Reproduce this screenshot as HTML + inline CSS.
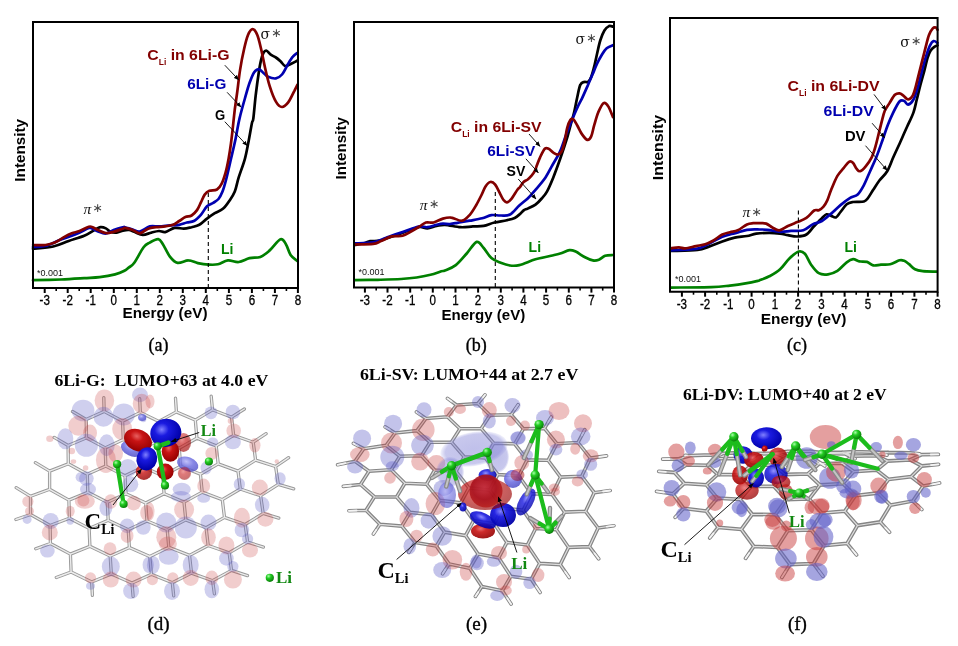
<!DOCTYPE html>
<html><head><meta charset="utf-8"><style>
html,body{margin:0;padding:0;background:#fff;width:958px;height:646px;overflow:hidden}
svg{display:block}
</style></head><body>
<svg width="958" height="646" viewBox="0 0 958 646">
<defs><marker id="ah" viewBox="0 0 10 10" refX="9" refY="5" markerWidth="6" markerHeight="6" orient="auto"><path d="M0,1 L10,5 L0,9 Z" fill="#000"/></marker></defs>
<rect width="958" height="646" fill="#fff"/>
<defs>
<radialGradient id="gR" cx="45%" cy="40%" r="60%"><stop offset="0" stop-color="#d98a8a" stop-opacity="0.55"/><stop offset="0.75" stop-color="#cf7070" stop-opacity="0.42"/><stop offset="1" stop-color="#c86060" stop-opacity="0.15"/></radialGradient>
<radialGradient id="gB" cx="45%" cy="40%" r="60%"><stop offset="0" stop-color="#a0a0ec" stop-opacity="0.55"/><stop offset="0.75" stop-color="#8080dc" stop-opacity="0.42"/><stop offset="1" stop-color="#7070d0" stop-opacity="0.15"/></radialGradient>
<radialGradient id="sR" cx="40%" cy="35%" r="65%"><stop offset="0" stop-color="#e86060"/><stop offset="0.35" stop-color="#c81414"/><stop offset="1" stop-color="#960000"/></radialGradient>
<radialGradient id="sB" cx="40%" cy="35%" r="65%"><stop offset="0" stop-color="#8080ff"/><stop offset="0.35" stop-color="#1a1ae0"/><stop offset="1" stop-color="#0000a8"/></radialGradient>
<radialGradient id="mB" cx="40%" cy="35%" r="65%"><stop offset="0" stop-color="#b0b0f8"/><stop offset="0.5" stop-color="#6a6ae0"/><stop offset="1" stop-color="#5050c8"/></radialGradient>
<radialGradient id="pB" cx="50%" cy="50%" r="50%"><stop offset="0" stop-color="#7c7cd4" stop-opacity="0.48"/><stop offset="0.85" stop-color="#7c7cd4" stop-opacity="0.42"/><stop offset="1" stop-color="#8080d8" stop-opacity="0.1"/></radialGradient>
<radialGradient id="dR" cx="45%" cy="40%" r="60%"><stop offset="0" stop-color="#c02838"/><stop offset="0.6" stop-color="#a8101c"/><stop offset="1" stop-color="#b82020"/></radialGradient>
<radialGradient id="gL" cx="35%" cy="30%" r="70%"><stop offset="0" stop-color="#aaffaa"/><stop offset="0.4" stop-color="#22cc22"/><stop offset="1" stop-color="#0a800a"/></radialGradient>
</defs>
<path d="M89.1,528.4L108.2,520.3M86.5,437.8L105.2,447.9M108.2,520.3L128.2,529.7M208.2,545.5L229.1,552.8M196.9,438.2L216.2,445.9M140.3,412.4L158.9,421.4M216.2,445.9L218.2,463.9M129.4,547.6L149.8,556.5M125.0,475.8L126.0,493.8M30.5,496.3L49.6,489.3M68.1,445.5L68.3,463.8M91.7,582.0L111.3,573.9M89.9,546.3L110.2,556.1M224.5,517.4L245.1,524.5M87.3,474.2L87.8,492.3M149.8,556.5L151.4,574.3M222.3,499.7L240.3,489.0M185.8,519.9L206.1,527.8M104.1,411.4L122.6,421.2M162.7,475.8L164.1,493.7M122.6,421.2L123.3,439.5M70.4,554.1L71.1,572.0M229.1,552.8L247.6,542.1M233.6,435.3L253.2,442.2M195.3,420.1L212.5,409.8M86.2,419.5L86.5,437.8M240.3,489.0L260.6,495.7M69.4,518.2L89.1,528.4M164.1,493.7L184.0,502.1M179.2,448.2L196.9,438.2M167.2,529.5L185.8,519.9M50.4,543.5L70.4,554.1M255.6,460.1L275.6,466.5M218.2,463.9L238.0,471.1M145.7,503.0L147.0,520.9M200.4,474.2L218.2,463.9M125.0,475.8L143.3,466.9M70.4,554.1L89.9,546.3M110.2,556.1L129.4,547.6M107.3,502.3L108.2,520.3M231.6,417.2L233.6,435.3M184.0,502.1L202.2,492.1M222.3,499.7L224.5,517.4M253.2,442.2L255.6,460.1M87.3,474.2L105.8,466.1M238.0,471.1L255.6,460.1M143.3,466.9L162.7,475.8M126.0,493.8L145.7,503.0M50.1,525.5L69.4,518.2M191.5,573.1L212.6,580.7M49.6,489.3L68.9,500.1M151.4,574.3L172.3,582.7M206.1,527.8L208.2,545.5M145.7,503.0L164.1,493.7M87.8,492.3L107.3,502.3M260.6,495.7L278.3,484.3M260.6,495.7L263.2,513.4M212.6,580.7L231.5,570.4M180.7,466.2L200.4,474.2M50.1,525.5L50.4,543.5M167.2,529.5L168.8,547.3M245.1,524.5L263.2,513.4M158.9,421.4L176.4,411.9M30.5,514.5L50.1,525.5M189.5,555.4L191.5,573.1M179.2,448.2L180.7,466.2M122.6,421.2L140.3,412.4M30.5,496.3L30.5,514.5M202.2,492.1L222.3,499.7M160.1,439.6L179.2,448.2M275.6,466.5L278.3,484.3M168.8,547.3L189.5,555.4M86.2,419.5L104.1,411.4M49.6,471.1L49.6,489.3M128.2,529.7L129.4,547.6M238.0,471.1L240.3,489.0M111.3,573.9L132.0,583.1M68.9,500.1L69.4,518.2M142.2,448.8L143.3,466.9M132.0,583.1L151.4,574.3M105.2,447.9L123.3,439.5M110.2,556.1L111.3,573.9M89.1,528.4L89.9,546.3M107.3,502.3L126.0,493.8M105.2,447.9L105.8,466.1M147.0,520.9L167.2,529.5M195.3,420.1L196.9,438.2M216.2,445.9L233.6,435.3M245.1,524.5L247.6,542.1M158.9,421.4L160.1,439.6M71.1,572.0L91.7,582.0M49.6,471.1L68.3,463.8M68.1,445.5L86.5,437.8M200.4,474.2L202.2,492.1M172.3,582.7L191.5,573.1M162.7,475.8L180.7,466.2M68.9,500.1L87.8,492.3M142.2,448.8L160.1,439.6M149.8,556.5L168.8,547.3M68.3,463.8L87.3,474.2M105.8,466.1L125.0,475.8M206.1,527.8L224.5,517.4M176.4,411.9L195.3,420.1M128.2,529.7L147.0,520.9M184.0,502.1L185.8,519.9M123.3,439.5L142.2,448.8M212.5,409.8L231.6,417.2M189.5,555.4L208.2,545.5M229.1,552.8L231.5,570.4M104.1,411.4L103.8,397.6M86.2,419.5L72.5,411.5M140.3,412.4L139.7,398.7M176.4,411.9L175.5,398.2M212.5,409.8L211.2,396.2M231.6,417.2L244.4,409.0M68.1,445.5L54.2,437.4M253.2,442.2L266.1,433.7M49.6,471.1L35.4,462.7M275.6,466.5L288.6,457.7M278.3,484.3L293.7,488.8M30.5,514.5L15.9,519.5M30.5,496.3L16.2,487.7M263.2,513.4L278.8,518.1M50.4,543.5L35.7,548.8M247.6,542.1L263.4,547.1M91.7,582.0L92.4,595.3M71.1,572.0L56.3,577.5M132.0,583.1L133.1,596.4M172.3,582.7L173.7,595.9M231.5,570.4L247.5,575.6M212.6,580.7L214.4,593.9" stroke="#999999" stroke-width="3.3" stroke-linecap="round" fill="none"/><path d="M89.1,528.4L108.2,520.3M86.5,437.8L105.2,447.9M108.2,520.3L128.2,529.7M208.2,545.5L229.1,552.8M196.9,438.2L216.2,445.9M140.3,412.4L158.9,421.4M216.2,445.9L218.2,463.9M129.4,547.6L149.8,556.5M125.0,475.8L126.0,493.8M30.5,496.3L49.6,489.3M68.1,445.5L68.3,463.8M91.7,582.0L111.3,573.9M89.9,546.3L110.2,556.1M224.5,517.4L245.1,524.5M87.3,474.2L87.8,492.3M149.8,556.5L151.4,574.3M222.3,499.7L240.3,489.0M185.8,519.9L206.1,527.8M104.1,411.4L122.6,421.2M162.7,475.8L164.1,493.7M122.6,421.2L123.3,439.5M70.4,554.1L71.1,572.0M229.1,552.8L247.6,542.1M233.6,435.3L253.2,442.2M195.3,420.1L212.5,409.8M86.2,419.5L86.5,437.8M240.3,489.0L260.6,495.7M69.4,518.2L89.1,528.4M164.1,493.7L184.0,502.1M179.2,448.2L196.9,438.2M167.2,529.5L185.8,519.9M50.4,543.5L70.4,554.1M255.6,460.1L275.6,466.5M218.2,463.9L238.0,471.1M145.7,503.0L147.0,520.9M200.4,474.2L218.2,463.9M125.0,475.8L143.3,466.9M70.4,554.1L89.9,546.3M110.2,556.1L129.4,547.6M107.3,502.3L108.2,520.3M231.6,417.2L233.6,435.3M184.0,502.1L202.2,492.1M222.3,499.7L224.5,517.4M253.2,442.2L255.6,460.1M87.3,474.2L105.8,466.1M238.0,471.1L255.6,460.1M143.3,466.9L162.7,475.8M126.0,493.8L145.7,503.0M50.1,525.5L69.4,518.2M191.5,573.1L212.6,580.7M49.6,489.3L68.9,500.1M151.4,574.3L172.3,582.7M206.1,527.8L208.2,545.5M145.7,503.0L164.1,493.7M87.8,492.3L107.3,502.3M260.6,495.7L278.3,484.3M260.6,495.7L263.2,513.4M212.6,580.7L231.5,570.4M180.7,466.2L200.4,474.2M50.1,525.5L50.4,543.5M167.2,529.5L168.8,547.3M245.1,524.5L263.2,513.4M158.9,421.4L176.4,411.9M30.5,514.5L50.1,525.5M189.5,555.4L191.5,573.1M179.2,448.2L180.7,466.2M122.6,421.2L140.3,412.4M30.5,496.3L30.5,514.5M202.2,492.1L222.3,499.7M160.1,439.6L179.2,448.2M275.6,466.5L278.3,484.3M168.8,547.3L189.5,555.4M86.2,419.5L104.1,411.4M49.6,471.1L49.6,489.3M128.2,529.7L129.4,547.6M238.0,471.1L240.3,489.0M111.3,573.9L132.0,583.1M68.9,500.1L69.4,518.2M142.2,448.8L143.3,466.9M132.0,583.1L151.4,574.3M105.2,447.9L123.3,439.5M110.2,556.1L111.3,573.9M89.1,528.4L89.9,546.3M107.3,502.3L126.0,493.8M105.2,447.9L105.8,466.1M147.0,520.9L167.2,529.5M195.3,420.1L196.9,438.2M216.2,445.9L233.6,435.3M245.1,524.5L247.6,542.1M158.9,421.4L160.1,439.6M71.1,572.0L91.7,582.0M49.6,471.1L68.3,463.8M68.1,445.5L86.5,437.8M200.4,474.2L202.2,492.1M172.3,582.7L191.5,573.1M162.7,475.8L180.7,466.2M68.9,500.1L87.8,492.3M142.2,448.8L160.1,439.6M149.8,556.5L168.8,547.3M68.3,463.8L87.3,474.2M105.8,466.1L125.0,475.8M206.1,527.8L224.5,517.4M176.4,411.9L195.3,420.1M128.2,529.7L147.0,520.9M184.0,502.1L185.8,519.9M123.3,439.5L142.2,448.8M212.5,409.8L231.6,417.2M189.5,555.4L208.2,545.5M229.1,552.8L231.5,570.4M104.1,411.4L103.8,397.6M86.2,419.5L72.5,411.5M140.3,412.4L139.7,398.7M176.4,411.9L175.5,398.2M212.5,409.8L211.2,396.2M231.6,417.2L244.4,409.0M68.1,445.5L54.2,437.4M253.2,442.2L266.1,433.7M49.6,471.1L35.4,462.7M275.6,466.5L288.6,457.7M278.3,484.3L293.7,488.8M30.5,514.5L15.9,519.5M30.5,496.3L16.2,487.7M263.2,513.4L278.8,518.1M50.4,543.5L35.7,548.8M247.6,542.1L263.4,547.1M91.7,582.0L92.4,595.3M71.1,572.0L56.3,577.5M132.0,583.1L133.1,596.4M172.3,582.7L173.7,595.9M231.5,570.4L247.5,575.6M212.6,580.7L214.4,593.9" stroke="#ececec" stroke-width="1.4" stroke-linecap="round" fill="none"/>
<ellipse cx="83.1" cy="410.5" rx="11.3" ry="10.8" fill="#6060c8" fill-opacity="0.30"/>
<ellipse cx="104.4" cy="400.5" rx="9.8" ry="11.0" fill="#c83c3c" fill-opacity="0.26"/>
<ellipse cx="103.5" cy="416.8" rx="10.0" ry="10.0" fill="#6060c8" fill-opacity="0.30"/>
<ellipse cx="78.3" cy="425.8" rx="10.0" ry="10.0" fill="#c83c3c" fill-opacity="0.26"/>
<ellipse cx="90.0" cy="433.0" rx="7.0" ry="8.5" fill="#c83c3c" fill-opacity="0.26"/>
<ellipse cx="65.3" cy="438.8" rx="8.0" ry="10.5" fill="#6060c8" fill-opacity="0.30"/>
<ellipse cx="86.4" cy="445.3" rx="11.5" ry="11.5" fill="#6060c8" fill-opacity="0.30"/>
<ellipse cx="123.8" cy="414.4" rx="11.0" ry="11.0" fill="#6060c8" fill-opacity="0.30"/>
<ellipse cx="122.2" cy="429.0" rx="10.0" ry="11.0" fill="#c83c3c" fill-opacity="0.26"/>
<ellipse cx="140.0" cy="394.9" rx="8.0" ry="7.3" fill="#6060c8" fill-opacity="0.30"/>
<ellipse cx="141.7" cy="403.8" rx="9.0" ry="10.0" fill="#c83c3c" fill-opacity="0.26"/>
<ellipse cx="106.7" cy="445.3" rx="8.0" ry="11.0" fill="#6060c8" fill-opacity="0.30"/>
<ellipse cx="105.9" cy="460.0" rx="10.0" ry="13.0" fill="#c83c3c" fill-opacity="0.26"/>
<ellipse cx="115.7" cy="453.4" rx="7.3" ry="9.0" fill="#c83c3c" fill-opacity="0.26"/>
<ellipse cx="86.4" cy="478.6" rx="7.3" ry="7.3" fill="#6060c8" fill-opacity="0.30"/>
<ellipse cx="88.0" cy="489.2" rx="8.0" ry="6.4" fill="#6060c8" fill-opacity="0.30"/>
<ellipse cx="127.9" cy="468.0" rx="9.0" ry="9.0" fill="#6060c8" fill-opacity="0.30"/>
<ellipse cx="130.3" cy="484.3" rx="8.0" ry="8.0" fill="#6060c8" fill-opacity="0.30"/>
<ellipse cx="49.8" cy="438.8" rx="3.6" ry="3.3" fill="#c83c3c" fill-opacity="0.26"/>
<ellipse cx="71.8" cy="451.0" rx="3.3" ry="3.3" fill="#c83c3c" fill-opacity="0.26"/>
<ellipse cx="73.4" cy="461.5" rx="2.8" ry="2.3" fill="#c83c3c" fill-opacity="0.26"/>
<ellipse cx="85.6" cy="468.0" rx="2.8" ry="2.8" fill="#c83c3c" fill-opacity="0.26"/>
<ellipse cx="143.3" cy="419.3" rx="3.0" ry="3.0" fill="#6060c8" fill-opacity="0.30"/>
<ellipse cx="150.0" cy="401.4" rx="4.5" ry="7.0" fill="#c83c3c" fill-opacity="0.26"/>
<ellipse cx="211.0" cy="412.8" rx="6.4" ry="6.4" fill="#6060c8" fill-opacity="0.30"/>
<ellipse cx="232.9" cy="412.0" rx="7.3" ry="7.3" fill="#6060c8" fill-opacity="0.30"/>
<ellipse cx="233.7" cy="430.7" rx="7.3" ry="7.3" fill="#c83c3c" fill-opacity="0.26"/>
<ellipse cx="230.5" cy="420.9" rx="2.8" ry="2.8" fill="#c83c3c" fill-opacity="0.26"/>
<ellipse cx="212.6" cy="442.0" rx="5.6" ry="4.5" fill="#6060c8" fill-opacity="0.30"/>
<ellipse cx="232.9" cy="442.0" rx="8.0" ry="7.3" fill="#6060c8" fill-opacity="0.30"/>
<ellipse cx="254.9" cy="445.3" rx="5.6" ry="7.3" fill="#c83c3c" fill-opacity="0.26"/>
<ellipse cx="211.8" cy="453.4" rx="6.4" ry="6.4" fill="#c83c3c" fill-opacity="0.26"/>
<ellipse cx="206.1" cy="468.0" rx="5.6" ry="6.4" fill="#6060c8" fill-opacity="0.30"/>
<ellipse cx="203.7" cy="485.9" rx="6.4" ry="7.3" fill="#c83c3c" fill-opacity="0.26"/>
<ellipse cx="181.7" cy="489.2" rx="9.0" ry="6.4" fill="#6060c8" fill-opacity="0.30"/>
<ellipse cx="239.4" cy="484.3" rx="5.6" ry="6.4" fill="#6060c8" fill-opacity="0.30"/>
<ellipse cx="259.8" cy="487.6" rx="8.0" ry="8.0" fill="#c83c3c" fill-opacity="0.26"/>
<ellipse cx="280.1" cy="478.6" rx="5.6" ry="6.4" fill="#6060c8" fill-opacity="0.30"/>
<ellipse cx="276.8" cy="461.5" rx="2.2" ry="2.2" fill="#c83c3c" fill-opacity="0.26"/>
<ellipse cx="27.9" cy="501.5" rx="5.6" ry="5.6" fill="#c83c3c" fill-opacity="0.26"/>
<ellipse cx="29.5" cy="511.3" rx="4.5" ry="4.5" fill="#c83c3c" fill-opacity="0.26"/>
<ellipse cx="27.1" cy="519.4" rx="4.5" ry="4.5" fill="#6060c8" fill-opacity="0.30"/>
<ellipse cx="50.7" cy="521.0" rx="8.0" ry="8.0" fill="#6060c8" fill-opacity="0.30"/>
<ellipse cx="49.8" cy="532.4" rx="8.0" ry="8.0" fill="#c83c3c" fill-opacity="0.26"/>
<ellipse cx="70.2" cy="511.3" rx="4.5" ry="5.6" fill="#c83c3c" fill-opacity="0.26"/>
<ellipse cx="70.2" cy="521.0" rx="3.7" ry="3.7" fill="#6060c8" fill-opacity="0.30"/>
<ellipse cx="84.8" cy="501.5" rx="10.0" ry="7.3" fill="#c83c3c" fill-opacity="0.26"/>
<ellipse cx="105.9" cy="508.0" rx="6.4" ry="8.0" fill="#6060c8" fill-opacity="0.30"/>
<ellipse cx="110.8" cy="501.5" rx="6.4" ry="7.3" fill="#c83c3c" fill-opacity="0.26"/>
<ellipse cx="133.6" cy="503.1" rx="7.3" ry="7.3" fill="#c83c3c" fill-opacity="0.26"/>
<ellipse cx="146.6" cy="512.9" rx="6.4" ry="8.0" fill="#c83c3c" fill-opacity="0.26"/>
<ellipse cx="127.1" cy="525.9" rx="7.3" ry="7.3" fill="#6060c8" fill-opacity="0.30"/>
<ellipse cx="143.3" cy="527.5" rx="7.3" ry="7.3" fill="#6060c8" fill-opacity="0.30"/>
<ellipse cx="127.1" cy="535.7" rx="6.4" ry="7.3" fill="#c83c3c" fill-opacity="0.26"/>
<ellipse cx="47.4" cy="551.1" rx="7.3" ry="6.4" fill="#6060c8" fill-opacity="0.30"/>
<ellipse cx="110.0" cy="548.7" rx="6.4" ry="6.4" fill="#c83c3c" fill-opacity="0.26"/>
<ellipse cx="110.8" cy="566.5" rx="9.0" ry="10.0" fill="#6060c8" fill-opacity="0.30"/>
<ellipse cx="110.8" cy="579.6" rx="8.0" ry="8.0" fill="#c83c3c" fill-opacity="0.26"/>
<ellipse cx="90.5" cy="577.9" rx="5.6" ry="5.6" fill="#c83c3c" fill-opacity="0.26"/>
<ellipse cx="90.5" cy="586.0" rx="4.5" ry="3.7" fill="#6060c8" fill-opacity="0.30"/>
<ellipse cx="133.6" cy="579.6" rx="8.0" ry="8.0" fill="#c83c3c" fill-opacity="0.26"/>
<ellipse cx="131.1" cy="591.0" rx="8.0" ry="8.0" fill="#6060c8" fill-opacity="0.30"/>
<ellipse cx="148.2" cy="564.9" rx="5.6" ry="8.0" fill="#6060c8" fill-opacity="0.30"/>
<ellipse cx="180.9" cy="496.6" rx="10.0" ry="5.6" fill="#6060c8" fill-opacity="0.30"/>
<ellipse cx="184.1" cy="509.6" rx="10.0" ry="10.0" fill="#c83c3c" fill-opacity="0.26"/>
<ellipse cx="203.7" cy="498.3" rx="6.4" ry="4.5" fill="#6060c8" fill-opacity="0.30"/>
<ellipse cx="166.3" cy="522.6" rx="10.0" ry="10.0" fill="#6060c8" fill-opacity="0.30"/>
<ellipse cx="166.3" cy="537.3" rx="10.0" ry="11.0" fill="#c83c3c" fill-opacity="0.26"/>
<ellipse cx="185.8" cy="527.5" rx="11.0" ry="11.0" fill="#6060c8" fill-opacity="0.30"/>
<ellipse cx="208.5" cy="522.6" rx="8.0" ry="8.0" fill="#6060c8" fill-opacity="0.30"/>
<ellipse cx="208.5" cy="537.3" rx="7.3" ry="9.0" fill="#c83c3c" fill-opacity="0.26"/>
<ellipse cx="150.0" cy="511.3" rx="4.5" ry="9.0" fill="#c83c3c" fill-opacity="0.26"/>
<ellipse cx="241.9" cy="517.8" rx="8.0" ry="10.0" fill="#c83c3c" fill-opacity="0.26"/>
<ellipse cx="241.9" cy="530.0" rx="7.3" ry="7.3" fill="#6060c8" fill-opacity="0.30"/>
<ellipse cx="262.2" cy="504.8" rx="7.3" ry="8.0" fill="#6060c8" fill-opacity="0.30"/>
<ellipse cx="265.4" cy="519.4" rx="8.0" ry="7.3" fill="#c83c3c" fill-opacity="0.26"/>
<ellipse cx="247.6" cy="538.9" rx="5.6" ry="5.6" fill="#6060c8" fill-opacity="0.30"/>
<ellipse cx="250.0" cy="550.3" rx="8.0" ry="7.3" fill="#c83c3c" fill-opacity="0.26"/>
<ellipse cx="226.4" cy="545.4" rx="8.0" ry="9.0" fill="#c83c3c" fill-opacity="0.26"/>
<ellipse cx="226.4" cy="558.4" rx="7.3" ry="7.3" fill="#6060c8" fill-opacity="0.30"/>
<ellipse cx="232.9" cy="566.5" rx="5.6" ry="5.6" fill="#6060c8" fill-opacity="0.30"/>
<ellipse cx="232.9" cy="579.6" rx="9.0" ry="9.0" fill="#c83c3c" fill-opacity="0.26"/>
<ellipse cx="168.7" cy="556.8" rx="10.0" ry="8.0" fill="#6060c8" fill-opacity="0.30"/>
<ellipse cx="167.9" cy="543.8" rx="9.0" ry="7.3" fill="#c83c3c" fill-opacity="0.26"/>
<ellipse cx="190.7" cy="564.9" rx="8.0" ry="10.0" fill="#6060c8" fill-opacity="0.30"/>
<ellipse cx="190.7" cy="577.9" rx="8.0" ry="8.0" fill="#c83c3c" fill-opacity="0.26"/>
<ellipse cx="211.8" cy="577.9" rx="6.4" ry="7.3" fill="#c83c3c" fill-opacity="0.26"/>
<ellipse cx="211.8" cy="589.3" rx="7.3" ry="9.0" fill="#6060c8" fill-opacity="0.30"/>
<ellipse cx="172.8" cy="577.9" rx="5.6" ry="5.6" fill="#c83c3c" fill-opacity="0.26"/>
<ellipse cx="172.0" cy="590.9" rx="8.0" ry="9.0" fill="#6060c8" fill-opacity="0.30"/>
<ellipse cx="153.3" cy="564.9" rx="6.4" ry="9.0" fill="#6060c8" fill-opacity="0.30"/>
<ellipse cx="152.4" cy="579.6" rx="5.6" ry="5.6" fill="#c83c3c" fill-opacity="0.26"/>
<ellipse cx="80.6" cy="477.2" rx="5.0" ry="5.0" fill="#6060c8" fill-opacity="0.30"/>
<ellipse cx="83.4" cy="500.4" rx="6.0" ry="6.0" fill="#c83c3c" fill-opacity="0.26"/>
<ellipse cx="183.3" cy="443.7" rx="6.5" ry="8.0" fill="#c83c3c" fill-opacity="0.26"/>
<ellipse cx="184.1" cy="472.9" rx="6.5" ry="6.5" fill="#c83c3c" fill-opacity="0.26"/>
<ellipse cx="131.4" cy="449.0" rx="11.1" ry="7.0" fill="url(#mB)" transform="rotate(25 131.4 449.0)" opacity="0.85"/>
<ellipse cx="187.7" cy="464.2" rx="11.1" ry="7.0" fill="url(#mB)" transform="rotate(20 187.7 464.2)" opacity="0.8"/>
<ellipse cx="183.5" cy="442.5" rx="7.6" ry="9.4" fill="url(#sR)" opacity="0.55"/>
<ellipse cx="184.5" cy="473.5" rx="6.5" ry="6.5" fill="url(#sR)" opacity="0.45"/>
<ellipse cx="143.9" cy="471.8" rx="8.2" ry="8.2" fill="url(#sR)" opacity="0.8"/>
<ellipse cx="142.2" cy="417.5" rx="4.1" ry="3.6" fill="url(#mB)" opacity="0.8"/>
<ellipse cx="138.0" cy="440.3" rx="14.6" ry="10.8" fill="url(#sR)" transform="rotate(25 138.0 440.3)" opacity="1"/>
<ellipse cx="165.2" cy="471.8" rx="8.4" ry="8.2" fill="url(#sR)" opacity="1"/>
<ellipse cx="170.4" cy="451.2" rx="8.7" ry="10.6" fill="url(#sR)" opacity="1"/>
<ellipse cx="165.8" cy="432.8" rx="15.6" ry="14.0" fill="url(#sB)" transform="rotate(-15 165.8 432.8)" opacity="1"/>
<ellipse cx="146.8" cy="458.8" rx="10.3" ry="11.7" fill="url(#sB)" transform="rotate(15 146.8 458.8)" opacity="1"/>
<line x1="117.1" y1="464.2" x2="123.6" y2="504" stroke="#1cbc1c" stroke-width="4.2" stroke-linecap="round"/>
<line x1="157.7" y1="446.3" x2="165" y2="485.4" stroke="#1cbc1c" stroke-width="4.2" stroke-linecap="round"/>
<line x1="157.7" y1="446.3" x2="168.3" y2="442.6" stroke="#1cbc1c" stroke-width="4.6" stroke-linecap="round"/>
<circle cx="117.1" cy="464.2" r="4.1" fill="url(#gL)"/>
<circle cx="123.6" cy="504" r="4.1" fill="url(#gL)"/>
<circle cx="157.7" cy="446.3" r="4.1" fill="url(#gL)"/>
<circle cx="165" cy="485.4" r="4.1" fill="url(#gL)"/>
<circle cx="208.9" cy="461.5" r="4.1" fill="url(#gL)"/>
<circle cx="269.8" cy="577.8" r="4.1" fill="url(#gL)"/>
<text x="200.8" y="435.8" font-family="Liberation Serif, Times New Roman, serif" font-weight="bold" font-size="16" fill="#118811">Li</text>
<text x="276" y="582.8" font-family="Liberation Serif, Times New Roman, serif" font-weight="bold" font-size="17" fill="#118811">Li</text>
<text x="84.5" y="529.2" font-family="Liberation Serif, Times New Roman, serif" font-weight="bold" font-size="23" fill="#000">C<tspan font-size="14" dy="5">Li</tspan></text>
<line x1="199.2" y1="432.5" x2="171.5" y2="441.5" stroke="#000" stroke-width="0.9" marker-end="url(#ah)"/>
<line x1="113" y1="505" x2="141.5" y2="469.1" stroke="#000" stroke-width="0.9" marker-end="url(#ah)"/>
<text x="161.4" y="385.9" font-family="Liberation Serif, Times New Roman, serif" font-weight="bold" font-size="16.6" text-anchor="middle" textLength="213.9" lengthAdjust="spacingAndGlyphs">6Li-G:&#160; LUMO+63 at 4.0 eV</text>
<text x="158.5" y="629.8" font-family="Liberation Serif, Times New Roman, serif" font-size="19" text-anchor="middle" stroke="#000" stroke-width="0.35">(d)</text><path d="M449.0,563.9L469.8,568.3M415.1,542.5L436.4,546.1M456.0,471.3L464.2,456.8M401.8,526.1L410.1,512.4M523.1,510.2L531.3,493.6M401.8,526.1L415.1,542.5M417.0,430.6L425.9,418.5M552.1,494.4L560.6,477.1M465.5,535.6L473.6,520.7M494.4,523.8L502.4,508.0M581.7,476.2L590.4,458.1M527.1,459.9L548.1,460.3M431.6,514.7L444.6,532.1M560.2,564.6L568.6,547.4M366.0,510.3L374.5,496.8M523.1,510.2L535.6,528.5M560.6,477.1L581.7,476.2M447.4,416.8L456.5,405.0M410.1,512.4L431.6,514.7M451.4,442.1L460.0,428.7M518.8,476.0L531.3,493.6M426.5,484.2L439.7,500.4M510.8,576.3L531.3,579.2M493.7,443.2L514.7,443.8M506.9,542.4L527.4,545.0M473.6,520.7L494.4,523.8M366.0,510.3L379.9,524.3M460.8,502.8L468.9,487.9M556.3,529.6L568.6,547.4M490.0,415.2L511.2,414.8M456.0,471.3L468.9,487.9M430.0,442.3L451.4,442.1M395.0,433.0L417.0,430.6M489.8,490.1L497.9,474.5M477.9,403.5L490.0,415.2M468.9,487.9L489.8,490.1M581.7,476.2L594.2,492.7M485.3,457.9L493.7,443.2M531.3,493.6L552.1,494.4M518.8,476.0L527.1,459.9M421.5,455.7L434.7,470.0M502.4,590.8L510.8,576.3M355.0,461.3L363.8,448.7M494.4,523.8L506.9,542.4M369.0,471.2L391.3,469.7M539.7,563.4L560.2,564.6M556.3,529.6L564.6,512.1M434.7,470.0L456.0,471.3M527.4,545.0L539.7,563.4M451.4,442.1L464.2,456.8M544.5,428.4L556.8,443.7M436.4,546.1L449.0,563.9M431.6,514.7L439.7,500.4M355.0,461.3L369.0,471.2M386.2,445.3L395.0,433.0M374.5,496.8L396.6,497.0M548.1,460.3L560.6,477.1M511.2,414.8L523.4,428.8M489.8,490.1L502.4,508.0M578.0,442.5L590.4,458.1M417.0,430.6L430.0,442.3M502.4,508.0L523.1,510.2M465.5,535.6L478.1,554.0M386.2,445.3L399.8,456.3M360.5,484.5L374.5,496.8M535.6,528.5L556.3,529.6M469.8,568.3L481.9,586.5M498.7,557.8L506.9,542.4M478.1,554.0L498.7,557.8M447.4,416.8L460.0,428.7M399.8,456.3L421.5,455.7M426.5,484.2L434.7,470.0M439.7,500.4L460.8,502.8M481.9,586.5L502.4,590.8M404.9,483.2L426.5,484.2M481.2,428.6L490.0,415.2M464.2,456.8L485.3,457.9M485.3,457.9L497.9,474.5M527.4,545.0L535.6,528.5M460.0,428.7L481.2,428.6M391.3,469.7L404.9,483.2M568.6,547.4L589.5,546.6M585.6,511.3L598.1,528.0M379.9,524.3L401.8,526.1M548.1,460.3L556.8,443.7M523.4,428.8L544.5,428.4M421.5,455.7L430.0,442.3M444.6,532.1L465.5,535.6M514.7,443.8L527.1,459.9M460.8,502.8L473.6,520.7M396.6,497.0L404.9,483.2M360.5,484.5L369.0,471.2M456.5,405.0L477.9,403.5M556.8,443.7L578.0,442.5M469.8,568.3L478.1,554.0M497.9,474.5L518.8,476.0M425.9,418.5L447.4,416.8M564.6,512.1L585.6,511.3M552.1,494.4L564.6,512.1M498.7,557.8L510.8,576.3M589.5,546.6L598.1,528.0M363.8,448.7L386.2,445.3M396.6,497.0L410.1,512.4M531.3,579.2L539.7,563.4M585.6,511.3L594.2,492.7M481.2,428.6L493.7,443.2M391.3,469.7L399.8,456.3M436.4,546.1L444.6,532.1M514.7,443.8L523.4,428.8M355.0,461.3L337.6,464.8M363.8,448.7L353.4,443.4M395.0,433.0L385.1,426.9M425.9,418.5L416.4,412.0M456.5,405.0L447.5,398.4M477.9,403.5L485.0,394.8M360.5,484.5L343.3,486.4M511.2,414.8L518.1,404.7M379.9,524.3L373.4,534.1M366.0,510.3L348.9,510.8M544.5,428.4L551.3,417.0M415.1,542.5L408.7,552.4M590.4,458.1L606.6,455.9M578.0,442.5L584.8,429.7M449.0,563.9L442.6,573.8M594.2,492.7L610.2,490.5M502.4,590.8L511.1,604.1M481.9,586.5L475.4,596.4M531.3,579.2L540.1,592.5M560.2,564.6L569.2,577.6M598.1,528.0L614.0,525.7M589.5,546.6L598.7,558.8" stroke="#858585" stroke-width="3.6" stroke-linecap="round" fill="none"/><path d="M449.0,563.9L469.8,568.3M415.1,542.5L436.4,546.1M456.0,471.3L464.2,456.8M401.8,526.1L410.1,512.4M523.1,510.2L531.3,493.6M401.8,526.1L415.1,542.5M417.0,430.6L425.9,418.5M552.1,494.4L560.6,477.1M465.5,535.6L473.6,520.7M494.4,523.8L502.4,508.0M581.7,476.2L590.4,458.1M527.1,459.9L548.1,460.3M431.6,514.7L444.6,532.1M560.2,564.6L568.6,547.4M366.0,510.3L374.5,496.8M523.1,510.2L535.6,528.5M560.6,477.1L581.7,476.2M447.4,416.8L456.5,405.0M410.1,512.4L431.6,514.7M451.4,442.1L460.0,428.7M518.8,476.0L531.3,493.6M426.5,484.2L439.7,500.4M510.8,576.3L531.3,579.2M493.7,443.2L514.7,443.8M506.9,542.4L527.4,545.0M473.6,520.7L494.4,523.8M366.0,510.3L379.9,524.3M460.8,502.8L468.9,487.9M556.3,529.6L568.6,547.4M490.0,415.2L511.2,414.8M456.0,471.3L468.9,487.9M430.0,442.3L451.4,442.1M395.0,433.0L417.0,430.6M489.8,490.1L497.9,474.5M477.9,403.5L490.0,415.2M468.9,487.9L489.8,490.1M581.7,476.2L594.2,492.7M485.3,457.9L493.7,443.2M531.3,493.6L552.1,494.4M518.8,476.0L527.1,459.9M421.5,455.7L434.7,470.0M502.4,590.8L510.8,576.3M355.0,461.3L363.8,448.7M494.4,523.8L506.9,542.4M369.0,471.2L391.3,469.7M539.7,563.4L560.2,564.6M556.3,529.6L564.6,512.1M434.7,470.0L456.0,471.3M527.4,545.0L539.7,563.4M451.4,442.1L464.2,456.8M544.5,428.4L556.8,443.7M436.4,546.1L449.0,563.9M431.6,514.7L439.7,500.4M355.0,461.3L369.0,471.2M386.2,445.3L395.0,433.0M374.5,496.8L396.6,497.0M548.1,460.3L560.6,477.1M511.2,414.8L523.4,428.8M489.8,490.1L502.4,508.0M578.0,442.5L590.4,458.1M417.0,430.6L430.0,442.3M502.4,508.0L523.1,510.2M465.5,535.6L478.1,554.0M386.2,445.3L399.8,456.3M360.5,484.5L374.5,496.8M535.6,528.5L556.3,529.6M469.8,568.3L481.9,586.5M498.7,557.8L506.9,542.4M478.1,554.0L498.7,557.8M447.4,416.8L460.0,428.7M399.8,456.3L421.5,455.7M426.5,484.2L434.7,470.0M439.7,500.4L460.8,502.8M481.9,586.5L502.4,590.8M404.9,483.2L426.5,484.2M481.2,428.6L490.0,415.2M464.2,456.8L485.3,457.9M485.3,457.9L497.9,474.5M527.4,545.0L535.6,528.5M460.0,428.7L481.2,428.6M391.3,469.7L404.9,483.2M568.6,547.4L589.5,546.6M585.6,511.3L598.1,528.0M379.9,524.3L401.8,526.1M548.1,460.3L556.8,443.7M523.4,428.8L544.5,428.4M421.5,455.7L430.0,442.3M444.6,532.1L465.5,535.6M514.7,443.8L527.1,459.9M460.8,502.8L473.6,520.7M396.6,497.0L404.9,483.2M360.5,484.5L369.0,471.2M456.5,405.0L477.9,403.5M556.8,443.7L578.0,442.5M469.8,568.3L478.1,554.0M497.9,474.5L518.8,476.0M425.9,418.5L447.4,416.8M564.6,512.1L585.6,511.3M552.1,494.4L564.6,512.1M498.7,557.8L510.8,576.3M589.5,546.6L598.1,528.0M363.8,448.7L386.2,445.3M396.6,497.0L410.1,512.4M531.3,579.2L539.7,563.4M585.6,511.3L594.2,492.7M481.2,428.6L493.7,443.2M391.3,469.7L399.8,456.3M436.4,546.1L444.6,532.1M514.7,443.8L523.4,428.8M355.0,461.3L337.6,464.8M363.8,448.7L353.4,443.4M395.0,433.0L385.1,426.9M425.9,418.5L416.4,412.0M456.5,405.0L447.5,398.4M477.9,403.5L485.0,394.8M360.5,484.5L343.3,486.4M511.2,414.8L518.1,404.7M379.9,524.3L373.4,534.1M366.0,510.3L348.9,510.8M544.5,428.4L551.3,417.0M415.1,542.5L408.7,552.4M590.4,458.1L606.6,455.9M578.0,442.5L584.8,429.7M449.0,563.9L442.6,573.8M594.2,492.7L610.2,490.5M502.4,590.8L511.1,604.1M481.9,586.5L475.4,596.4M531.3,579.2L540.1,592.5M560.2,564.6L569.2,577.6M598.1,528.0L614.0,525.7M589.5,546.6L598.7,558.8" stroke="#dedede" stroke-width="1.2" stroke-linecap="round" fill="none"/><path d="M345.4,463.2L337.6,464.8M358.0,445.8L353.4,443.4M389.6,429.6L385.1,426.9M420.6,414.9L416.4,412.0M451.5,401.4L447.5,398.4M481.8,398.7L485.0,394.8M351.0,485.5L343.3,486.4M515.0,409.2L518.1,404.7M376.3,529.7L373.4,534.1M356.6,510.5L348.9,510.8M548.2,422.1L551.3,417.0M411.6,547.9L408.7,552.4M599.3,456.9L606.6,455.9M581.8,435.4L584.8,429.7M445.5,569.3L442.6,573.8M603.0,491.5L610.2,490.5M507.2,598.1L511.1,604.1M478.4,591.9L475.4,596.4M536.1,586.5L540.1,592.5M565.2,571.7L569.2,577.6M606.8,526.7L614.0,525.7M594.5,553.3L598.7,558.8" stroke="#f4f4f4" stroke-width="1.7999999999999998" stroke-linecap="round" fill="none"/>
<ellipse cx="362.1" cy="438.4" rx="9.0" ry="9.0" fill="#6060c8" fill-opacity="0.38"/>
<ellipse cx="359.8" cy="454.6" rx="9.8" ry="7.5" fill="#c83c3c" fill-opacity="0.33"/>
<ellipse cx="355.1" cy="467.0" rx="8.0" ry="6.5" fill="#6060c8" fill-opacity="0.38"/>
<ellipse cx="393.1" cy="423.7" rx="9.0" ry="9.0" fill="#6060c8" fill-opacity="0.38"/>
<ellipse cx="391.5" cy="443.0" rx="10.5" ry="10.5" fill="#c83c3c" fill-opacity="0.33"/>
<ellipse cx="392.3" cy="457.0" rx="12.0" ry="11.3" fill="#6060c8" fill-opacity="0.38"/>
<ellipse cx="392.3" cy="466.2" rx="6.5" ry="5.0" fill="#6060c8" fill-opacity="0.38"/>
<ellipse cx="390.0" cy="477.9" rx="5.8" ry="5.8" fill="#c83c3c" fill-opacity="0.33"/>
<ellipse cx="424.0" cy="409.7" rx="7.5" ry="7.5" fill="#6060c8" fill-opacity="0.38"/>
<ellipse cx="423.3" cy="429.8" rx="11.3" ry="11.3" fill="#c83c3c" fill-opacity="0.33"/>
<ellipse cx="422.5" cy="445.3" rx="11.3" ry="10.5" fill="#6060c8" fill-opacity="0.38"/>
<ellipse cx="420.2" cy="461.6" rx="9.0" ry="9.0" fill="#c83c3c" fill-opacity="0.33"/>
<ellipse cx="436.4" cy="463.1" rx="9.0" ry="8.0" fill="#c83c3c" fill-opacity="0.33"/>
<ellipse cx="448.8" cy="412.0" rx="5.0" ry="5.0" fill="#c83c3c" fill-opacity="0.33"/>
<ellipse cx="443.4" cy="487.9" rx="9.8" ry="8.0" fill="#6060c8" fill-opacity="0.38"/>
<ellipse cx="489.3" cy="410.1" rx="7.5" ry="8.0" fill="#c83c3c" fill-opacity="0.33"/>
<ellipse cx="489.3" cy="421.0" rx="6.5" ry="7.5" fill="#6060c8" fill-opacity="0.38"/>
<ellipse cx="512.5" cy="405.5" rx="8.0" ry="7.5" fill="#6060c8" fill-opacity="0.38"/>
<ellipse cx="511.0" cy="421.0" rx="5.0" ry="5.0" fill="#c83c3c" fill-opacity="0.33"/>
<ellipse cx="524.9" cy="425.6" rx="5.0" ry="5.0" fill="#c83c3c" fill-opacity="0.33"/>
<ellipse cx="545.0" cy="417.9" rx="9.0" ry="8.0" fill="#6060c8" fill-opacity="0.38"/>
<ellipse cx="559.0" cy="410.9" rx="10.5" ry="9.0" fill="#c83c3c" fill-opacity="0.33"/>
<ellipse cx="583.0" cy="423.3" rx="9.0" ry="9.0" fill="#c83c3c" fill-opacity="0.33"/>
<ellipse cx="580.7" cy="436.5" rx="9.8" ry="9.0" fill="#6060c8" fill-opacity="0.38"/>
<ellipse cx="555.9" cy="439.6" rx="9.0" ry="9.0" fill="#c83c3c" fill-opacity="0.33"/>
<ellipse cx="555.9" cy="449.6" rx="6.5" ry="5.8" fill="#6060c8" fill-opacity="0.38"/>
<ellipse cx="575.2" cy="448.9" rx="5.0" ry="5.8" fill="#c83c3c" fill-opacity="0.33"/>
<ellipse cx="590.7" cy="455.8" rx="8.0" ry="6.5" fill="#c83c3c" fill-opacity="0.33"/>
<ellipse cx="590.7" cy="464.3" rx="6.5" ry="6.5" fill="#6060c8" fill-opacity="0.38"/>
<ellipse cx="582.2" cy="474.4" rx="5.8" ry="5.0" fill="#6060c8" fill-opacity="0.38"/>
<ellipse cx="577.6" cy="481.4" rx="5.8" ry="5.0" fill="#c83c3c" fill-opacity="0.33"/>
<ellipse cx="518.0" cy="438.0" rx="7.5" ry="6.5" fill="#6060c8" fill-opacity="0.38"/>
<ellipse cx="526.5" cy="455.0" rx="6.5" ry="5.8" fill="#6060c8" fill-opacity="0.38"/>
<ellipse cx="521.8" cy="462.8" rx="7.5" ry="7.5" fill="#c83c3c" fill-opacity="0.33"/>
<ellipse cx="554.3" cy="487.6" rx="5.5" ry="4.0" fill="#c83c3c" fill-opacity="0.33"/>
<ellipse cx="411.5" cy="507.9" rx="8.0" ry="9.8" fill="#6060c8" fill-opacity="0.38"/>
<ellipse cx="406.4" cy="519.0" rx="7.0" ry="8.0" fill="#c83c3c" fill-opacity="0.33"/>
<ellipse cx="435.4" cy="503.6" rx="9.8" ry="11.5" fill="#c83c3c" fill-opacity="0.33"/>
<ellipse cx="428.6" cy="520.7" rx="8.0" ry="8.0" fill="#6060c8" fill-opacity="0.38"/>
<ellipse cx="416.6" cy="536.0" rx="6.3" ry="6.3" fill="#c83c3c" fill-opacity="0.33"/>
<ellipse cx="409.8" cy="546.2" rx="6.3" ry="8.0" fill="#6060c8" fill-opacity="0.38"/>
<ellipse cx="442.2" cy="536.0" rx="9.8" ry="9.8" fill="#6060c8" fill-opacity="0.38"/>
<ellipse cx="432.8" cy="549.6" rx="7.0" ry="7.0" fill="#c83c3c" fill-opacity="0.33"/>
<ellipse cx="452.4" cy="559.8" rx="9.8" ry="9.8" fill="#c83c3c" fill-opacity="0.33"/>
<ellipse cx="442.2" cy="570.0" rx="9.0" ry="8.0" fill="#6060c8" fill-opacity="0.38"/>
<ellipse cx="466.0" cy="571.8" rx="6.3" ry="9.0" fill="#c83c3c" fill-opacity="0.33"/>
<ellipse cx="476.3" cy="561.5" rx="5.3" ry="7.0" fill="#6060c8" fill-opacity="0.38"/>
<ellipse cx="499.0" cy="553.0" rx="8.0" ry="7.0" fill="#c83c3c" fill-opacity="0.33"/>
<ellipse cx="493.8" cy="561.5" rx="7.0" ry="5.3" fill="#6060c8" fill-opacity="0.38"/>
<ellipse cx="476.8" cy="563.2" rx="7.0" ry="7.0" fill="#6060c8" fill-opacity="0.38"/>
<ellipse cx="504.0" cy="582.0" rx="8.0" ry="8.0" fill="#c83c3c" fill-opacity="0.33"/>
<ellipse cx="516.0" cy="571.7" rx="6.3" ry="7.0" fill="#6060c8" fill-opacity="0.38"/>
<ellipse cx="529.6" cy="582.8" rx="6.3" ry="6.3" fill="#6060c8" fill-opacity="0.38"/>
<ellipse cx="538.1" cy="575.1" rx="6.3" ry="7.0" fill="#c83c3c" fill-opacity="0.33"/>
<ellipse cx="505.8" cy="590.5" rx="6.0" ry="5.0" fill="#c83c3c" fill-opacity="0.33"/>
<ellipse cx="497.2" cy="595.6" rx="7.0" ry="5.3" fill="#6060c8" fill-opacity="0.38"/>
<ellipse cx="526.2" cy="549.6" rx="4.0" ry="4.0" fill="#c83c3c" fill-opacity="0.33"/>
<ellipse cx="536.4" cy="526.6" rx="3.5" ry="3.5" fill="#c83c3c" fill-opacity="0.33"/>
<ellipse cx="555.0" cy="491.7" rx="5.0" ry="4.0" fill="#c83c3c" fill-opacity="0.33"/>
<ellipse cx="478.0" cy="402.0" rx="6.0" ry="6.0" fill="#6060c8" fill-opacity="0.38"/>
<ellipse cx="460.0" cy="409.0" rx="6.0" ry="5.0" fill="#c83c3c" fill-opacity="0.33"/>
<ellipse cx="474.0" cy="449.0" rx="34.0" ry="17.0" fill="url(#pB)" transform="rotate(-10 474.0 449.0)" opacity="1"/>
<ellipse cx="450.0" cy="472.0" rx="14.0" ry="15.0" fill="url(#pB)" opacity="1"/>
<ellipse cx="497.0" cy="457.0" rx="12.0" ry="16.0" fill="url(#pB)" opacity="1"/>
<ellipse cx="447.0" cy="495.0" rx="9.0" ry="13.0" fill="url(#mB)" opacity="0.6"/>
<ellipse cx="518.0" cy="438.0" rx="8.0" ry="7.0" fill="url(#pB)" opacity="1"/>
<ellipse cx="483.0" cy="531.0" rx="12.0" ry="7.5" fill="url(#sR)" opacity="0.9"/>
<ellipse cx="487.5" cy="475.0" rx="9.0" ry="6.0" fill="url(#sB)" opacity="0.85"/>
<ellipse cx="513.0" cy="479.0" rx="9.0" ry="9.0" fill="url(#mB)" opacity="0.85"/>
<ellipse cx="517.5" cy="475.0" rx="7.0" ry="6.0" fill="url(#sR)" opacity="0.45"/>
<ellipse cx="526.0" cy="502.0" rx="7.0" ry="15.0" fill="url(#sB)" transform="rotate(30 526.0 502.0)" opacity="0.8"/>
<ellipse cx="483.0" cy="520.0" rx="14.0" ry="7.0" fill="url(#sB)" transform="rotate(25 483.0 520.0)" opacity="0.9"/>
<ellipse cx="503.0" cy="515.0" rx="13.0" ry="12.0" fill="url(#sB)" opacity="0.95"/>
<ellipse cx="485.0" cy="494.0" rx="27.0" ry="16.0" fill="url(#sR)" opacity="0.65"/>
<ellipse cx="486.0" cy="491.0" rx="16.5" ry="16.5" fill="url(#dR)" opacity="0.9"/>
<ellipse cx="463.0" cy="507.0" rx="3.5" ry="4.5" fill="url(#sB)" opacity="0.9"/>
<line x1="448.9" y1="476.15" x2="446.2" y2="486.6" stroke="#8a8a8a" stroke-width="4.4" stroke-linecap="round"/><line x1="448.9" y1="476.15" x2="446.2" y2="486.6" stroke="#c4c4c4" stroke-width="2.0000000000000004" stroke-linecap="round"/><line x1="451.6" y1="465.7" x2="448.9" y2="476.15" stroke="#1cbc1c" stroke-width="4.4" stroke-linecap="round"/>
<line x1="455.85" y1="478.45" x2="460.1" y2="491.2" stroke="#8a8a8a" stroke-width="4.4" stroke-linecap="round"/><line x1="455.85" y1="478.45" x2="460.1" y2="491.2" stroke="#c4c4c4" stroke-width="2.0000000000000004" stroke-linecap="round"/><line x1="451.6" y1="465.7" x2="455.85" y2="478.45" stroke="#1cbc1c" stroke-width="4.4" stroke-linecap="round"/>
<line x1="441.8" y1="471.85" x2="432" y2="478" stroke="#8a8a8a" stroke-width="4.4" stroke-linecap="round"/><line x1="441.8" y1="471.85" x2="432" y2="478" stroke="#c4c4c4" stroke-width="2.0000000000000004" stroke-linecap="round"/><line x1="451.6" y1="465.7" x2="441.8" y2="471.85" stroke="#1cbc1c" stroke-width="4.4" stroke-linecap="round"/>
<line x1="489.54999999999995" y1="461.25" x2="491.9" y2="470" stroke="#8a8a8a" stroke-width="4.4" stroke-linecap="round"/><line x1="489.54999999999995" y1="461.25" x2="491.9" y2="470" stroke="#c4c4c4" stroke-width="2.0000000000000004" stroke-linecap="round"/><line x1="487.2" y1="452.5" x2="489.54999999999995" y2="461.25" stroke="#1cbc1c" stroke-width="4.4" stroke-linecap="round"/>
<line x1="531.55" y1="441.3" x2="524" y2="458" stroke="#8a8a8a" stroke-width="4.4" stroke-linecap="round"/><line x1="531.55" y1="441.3" x2="524" y2="458" stroke="#c4c4c4" stroke-width="2.0000000000000004" stroke-linecap="round"/><line x1="539.1" y1="424.6" x2="531.55" y2="441.3" stroke="#1cbc1c" stroke-width="4.4" stroke-linecap="round"/>
<line x1="530.95" y1="484.65" x2="526.7" y2="494.3" stroke="#8a8a8a" stroke-width="4.4" stroke-linecap="round"/><line x1="530.95" y1="484.65" x2="526.7" y2="494.3" stroke="#c4c4c4" stroke-width="2.0000000000000004" stroke-linecap="round"/><line x1="535.2" y1="475" x2="530.95" y2="484.65" stroke="#1cbc1c" stroke-width="4.4" stroke-linecap="round"/>
<line x1="539.6" y1="523.6" x2="530" y2="518" stroke="#8a8a8a" stroke-width="4.4" stroke-linecap="round"/><line x1="539.6" y1="523.6" x2="530" y2="518" stroke="#c4c4c4" stroke-width="2.0000000000000004" stroke-linecap="round"/><line x1="549.2" y1="529.2" x2="539.6" y2="523.6" stroke="#1cbc1c" stroke-width="4.4" stroke-linecap="round"/>
<line x1="555.6" y1="522.6" x2="562" y2="516" stroke="#8a8a8a" stroke-width="4.4" stroke-linecap="round"/><line x1="555.6" y1="522.6" x2="562" y2="516" stroke="#c4c4c4" stroke-width="2.0000000000000004" stroke-linecap="round"/><line x1="549.2" y1="529.2" x2="555.6" y2="522.6" stroke="#1cbc1c" stroke-width="4.4" stroke-linecap="round"/>
<line x1="549.6" y1="518.6" x2="550" y2="508" stroke="#8a8a8a" stroke-width="4.4" stroke-linecap="round"/><line x1="549.6" y1="518.6" x2="550" y2="508" stroke="#c4c4c4" stroke-width="2.0000000000000004" stroke-linecap="round"/><line x1="549.2" y1="529.2" x2="549.6" y2="518.6" stroke="#1cbc1c" stroke-width="4.4" stroke-linecap="round"/>
<line x1="541.6" y1="483.5" x2="548" y2="492" stroke="#8a8a8a" stroke-width="4.4" stroke-linecap="round"/><line x1="541.6" y1="483.5" x2="548" y2="492" stroke="#c4c4c4" stroke-width="2.0000000000000004" stroke-linecap="round"/><line x1="535.2" y1="475" x2="541.6" y2="483.5" stroke="#1cbc1c" stroke-width="4.4" stroke-linecap="round"/>
<line x1="451.6" y1="465.7" x2="487.2" y2="452.5" stroke="#1cbc1c" stroke-width="4.6" stroke-linecap="round"/>
<line x1="539.1" y1="424.6" x2="535.2" y2="475" stroke="#1cbc1c" stroke-width="4.2" stroke-linecap="round"/>
<line x1="535.2" y1="475" x2="549.2" y2="529.2" stroke="#1cbc1c" stroke-width="4.2" stroke-linecap="round"/>
<circle cx="451.6" cy="465.7" r="4.7" fill="url(#gL)"/>
<circle cx="487.2" cy="452.5" r="4.7" fill="url(#gL)"/>
<circle cx="539.1" cy="424.6" r="4.7" fill="url(#gL)"/>
<circle cx="535.2" cy="475" r="4.7" fill="url(#gL)"/>
<circle cx="549.2" cy="529.2" r="4.7" fill="url(#gL)"/>
<text x="377.5" y="577.7" font-family="Liberation Serif, Times New Roman, serif" font-weight="bold" font-size="24" fill="#000">C<tspan font-size="14.4" dy="5">Li</tspan></text>
<line x1="396.6" y1="559.5" x2="461.3" y2="503.2" stroke="#000" stroke-width="0.9" marker-end="url(#ah)"/>
<text x="511.2" y="569.2" font-family="Liberation Serif, Times New Roman, serif" font-weight="bold" font-size="17" fill="#118811">Li</text>
<line x1="516.9" y1="552.5" x2="498.3" y2="496.9" stroke="#000" stroke-width="0.9" marker-end="url(#ah)"/>
<text x="469.1" y="379.5" font-family="Liberation Serif, Times New Roman, serif" font-weight="bold" font-size="16.6" text-anchor="middle" textLength="218.4" lengthAdjust="spacingAndGlyphs">6Li-SV: LUMO+44 at 2.7 eV</text>
<text x="476.5" y="629.8" font-family="Liberation Serif, Times New Roman, serif" font-size="19" text-anchor="middle" stroke="#000" stroke-width="0.35">(e)</text><path d="M775.2,453.2L787.7,451.4M744.6,452.5L753.4,453.7M819.9,485.0L842.9,483.6M753.8,546.4L777.3,547.3M674.5,472.5L684.3,483.3M786.1,499.7L809.2,498.9M717.7,474.4L739.9,474.8M779.0,453.3L787.7,451.4M844.8,511.2L855.3,495.6M809.2,498.9L821.8,513.1M718.2,527.3L741.3,529.3M741.3,529.3L752.2,514.3M706.3,484.9L717.7,474.4M853.3,456.1L876.1,455.6M819.8,452.5L842.4,452.3M878.1,493.0L888.6,479.4M910.2,459.8L921.8,466.0M807.9,457.1L819.8,452.5M880.2,522.0L890.5,505.1M775.4,514.7L786.1,499.7M876.1,455.6L887.6,461.0M809.8,451.2L819.8,452.5M775.4,514.7L787.9,530.6M842.9,483.6L853.7,471.6M792.6,458.6L814.2,458.8M741.3,529.3L753.8,546.4M684.3,483.3L706.3,484.9M775.2,453.2L785.4,457.5M911.2,476.7L921.8,466.0M854.7,451.7L877.4,452.3M677.8,459.0L686.4,464.9M707.6,465.3L719.6,458.7M876.6,470.0L887.6,461.0M857.5,525.5L880.2,522.0M723.6,453.4L744.6,452.5M821.8,513.1L844.8,511.2M753.4,453.7L775.2,453.2M672.9,493.8L683.7,508.3M809.2,498.9L819.9,485.0M690.4,455.6L710.9,454.9M911.2,476.7L923.1,486.1M719.6,458.7L741.2,458.3M842.4,452.3L853.3,456.1M822.7,453.3L845.0,453.9M741.2,458.3L751.4,465.3M910.2,459.8L921.5,454.7M717.4,498.2L740.1,499.3M710.9,454.9L719.6,458.7M777.3,547.3L787.9,530.6M845.0,453.9L854.7,451.7M790.0,564.5L813.4,563.7M779.0,453.3L792.6,458.6M677.8,459.0L690.4,455.6M841.9,463.1L853.3,456.1M706.3,484.9L717.4,498.2M706.3,511.1L718.2,527.3M811.2,529.8L821.8,513.1M777.3,547.3L790.0,564.5M739.9,474.8L751.4,465.3M683.7,508.3L706.3,511.1M773.8,465.0L785.1,474.5M672.9,493.8L684.3,483.3M877.4,452.3L887.9,452.5M844.8,511.2L857.5,525.5M809.8,451.2L822.7,453.3M842.4,452.3L854.7,451.7M785.1,474.5L807.9,473.8M751.4,465.3L773.8,465.0M811.2,529.8L824.0,545.7M739.9,474.8L751.2,486.4M741.2,458.3L753.4,453.7M686.4,464.9L707.6,465.3M751.2,486.4L774.0,486.4M887.6,461.0L910.2,459.8M710.9,454.9L723.6,453.4M876.1,455.6L887.9,452.5M878.1,493.0L890.5,505.1M824.0,545.7L847.1,543.4M807.9,457.1L819.1,463.9M740.1,499.3L752.2,514.3M912.9,501.0L923.1,486.1M910.6,452.9L921.5,454.7M890.5,505.1L912.9,501.0M674.5,472.5L686.4,464.9M773.8,465.0L785.4,457.5M887.9,452.5L910.6,452.9M842.9,483.6L855.3,495.6M707.6,465.3L717.7,474.4M847.1,543.4L857.5,525.5M774.0,486.4L785.1,474.5M888.6,479.4L911.2,476.7M855.3,495.6L878.1,493.0M787.7,451.4L809.8,451.2M876.6,470.0L888.6,479.4M774.0,486.4L786.1,499.7M807.9,473.8L819.1,463.9M744.6,452.5L757.7,453.9M787.9,530.6L811.2,529.8M752.2,514.3L775.4,514.7M814.2,458.8L822.7,453.3M740.1,499.3L751.2,486.4M841.9,463.1L853.7,471.6M813.4,563.7L824.0,545.7M853.7,471.6L876.6,470.0M785.4,457.5L807.9,457.1M819.1,463.9L841.9,463.1M757.7,453.9L779.0,453.3M706.3,511.1L717.4,498.2M807.9,473.8L819.9,485.0M677.8,459.0L662.7,459.1M690.4,455.6L685.1,455.5M674.5,472.5L658.8,471.4M683.7,508.3L675.2,517.3M672.9,493.8L656.6,491.4M723.6,453.4L718.2,455.2M718.2,527.3L709.8,537.9M757.7,453.9L752.3,458.0M753.8,546.4L745.6,558.3M792.6,458.6L787.3,465.3M814.2,458.8L824.8,465.9M813.4,563.7L822.9,576.2M790.0,564.5L781.9,577.4M845.0,453.9L855.0,458.7M847.1,543.4L856.5,554.9M877.4,452.3L886.9,455.1M880.2,522.0L889.5,532.2M921.5,454.7L938.3,454.4M910.6,452.9L919.6,453.8M921.8,466.0L938.5,464.3M923.1,486.1L939.6,483.0M912.9,501.0L921.8,509.5" stroke="#858585" stroke-width="3.8" stroke-linecap="round" fill="none"/><path d="M775.2,453.2L787.7,451.4M744.6,452.5L753.4,453.7M819.9,485.0L842.9,483.6M753.8,546.4L777.3,547.3M674.5,472.5L684.3,483.3M786.1,499.7L809.2,498.9M717.7,474.4L739.9,474.8M779.0,453.3L787.7,451.4M844.8,511.2L855.3,495.6M809.2,498.9L821.8,513.1M718.2,527.3L741.3,529.3M741.3,529.3L752.2,514.3M706.3,484.9L717.7,474.4M853.3,456.1L876.1,455.6M819.8,452.5L842.4,452.3M878.1,493.0L888.6,479.4M910.2,459.8L921.8,466.0M807.9,457.1L819.8,452.5M880.2,522.0L890.5,505.1M775.4,514.7L786.1,499.7M876.1,455.6L887.6,461.0M809.8,451.2L819.8,452.5M775.4,514.7L787.9,530.6M842.9,483.6L853.7,471.6M792.6,458.6L814.2,458.8M741.3,529.3L753.8,546.4M684.3,483.3L706.3,484.9M775.2,453.2L785.4,457.5M911.2,476.7L921.8,466.0M854.7,451.7L877.4,452.3M677.8,459.0L686.4,464.9M707.6,465.3L719.6,458.7M876.6,470.0L887.6,461.0M857.5,525.5L880.2,522.0M723.6,453.4L744.6,452.5M821.8,513.1L844.8,511.2M753.4,453.7L775.2,453.2M672.9,493.8L683.7,508.3M809.2,498.9L819.9,485.0M690.4,455.6L710.9,454.9M911.2,476.7L923.1,486.1M719.6,458.7L741.2,458.3M842.4,452.3L853.3,456.1M822.7,453.3L845.0,453.9M741.2,458.3L751.4,465.3M910.2,459.8L921.5,454.7M717.4,498.2L740.1,499.3M710.9,454.9L719.6,458.7M777.3,547.3L787.9,530.6M845.0,453.9L854.7,451.7M790.0,564.5L813.4,563.7M779.0,453.3L792.6,458.6M677.8,459.0L690.4,455.6M841.9,463.1L853.3,456.1M706.3,484.9L717.4,498.2M706.3,511.1L718.2,527.3M811.2,529.8L821.8,513.1M777.3,547.3L790.0,564.5M739.9,474.8L751.4,465.3M683.7,508.3L706.3,511.1M773.8,465.0L785.1,474.5M672.9,493.8L684.3,483.3M877.4,452.3L887.9,452.5M844.8,511.2L857.5,525.5M809.8,451.2L822.7,453.3M842.4,452.3L854.7,451.7M785.1,474.5L807.9,473.8M751.4,465.3L773.8,465.0M811.2,529.8L824.0,545.7M739.9,474.8L751.2,486.4M741.2,458.3L753.4,453.7M686.4,464.9L707.6,465.3M751.2,486.4L774.0,486.4M887.6,461.0L910.2,459.8M710.9,454.9L723.6,453.4M876.1,455.6L887.9,452.5M878.1,493.0L890.5,505.1M824.0,545.7L847.1,543.4M807.9,457.1L819.1,463.9M740.1,499.3L752.2,514.3M912.9,501.0L923.1,486.1M910.6,452.9L921.5,454.7M890.5,505.1L912.9,501.0M674.5,472.5L686.4,464.9M773.8,465.0L785.4,457.5M887.9,452.5L910.6,452.9M842.9,483.6L855.3,495.6M707.6,465.3L717.7,474.4M847.1,543.4L857.5,525.5M774.0,486.4L785.1,474.5M888.6,479.4L911.2,476.7M855.3,495.6L878.1,493.0M787.7,451.4L809.8,451.2M876.6,470.0L888.6,479.4M774.0,486.4L786.1,499.7M807.9,473.8L819.1,463.9M744.6,452.5L757.7,453.9M787.9,530.6L811.2,529.8M752.2,514.3L775.4,514.7M814.2,458.8L822.7,453.3M740.1,499.3L751.2,486.4M841.9,463.1L853.7,471.6M813.4,563.7L824.0,545.7M853.7,471.6L876.6,470.0M785.4,457.5L807.9,457.1M819.1,463.9L841.9,463.1M757.7,453.9L779.0,453.3M706.3,511.1L717.4,498.2M807.9,473.8L819.9,485.0M677.8,459.0L662.7,459.1M690.4,455.6L685.1,455.5M674.5,472.5L658.8,471.4M683.7,508.3L675.2,517.3M672.9,493.8L656.6,491.4M723.6,453.4L718.2,455.2M718.2,527.3L709.8,537.9M757.7,453.9L752.3,458.0M753.8,546.4L745.6,558.3M792.6,458.6L787.3,465.3M814.2,458.8L824.8,465.9M813.4,563.7L822.9,576.2M790.0,564.5L781.9,577.4M845.0,453.9L855.0,458.7M847.1,543.4L856.5,554.9M877.4,452.3L886.9,455.1M880.2,522.0L889.5,532.2M921.5,454.7L938.3,454.4M910.6,452.9L919.6,453.8M921.8,466.0L938.5,464.3M923.1,486.1L939.6,483.0M912.9,501.0L921.8,509.5" stroke="#dedede" stroke-width="1.2" stroke-linecap="round" fill="none"/><path d="M669.5,459.0L662.7,459.1M687.5,455.6L685.1,455.5M665.8,471.9L658.8,471.4M679.0,513.3L675.2,517.3M663.9,492.5L656.6,491.4M720.7,454.4L718.2,455.2M713.6,533.1L709.8,537.9M754.7,456.2L752.3,458.0M749.3,553.0L745.6,558.3M789.7,462.3L787.3,465.3M820.0,462.7L824.8,465.9M818.7,570.6L822.9,576.2M785.5,571.6L781.9,577.4M850.5,456.6L855.0,458.7M852.3,549.7L856.5,554.9M882.6,453.8L886.9,455.1M885.3,527.6L889.5,532.2M930.7,454.5L938.3,454.4M915.6,453.4L919.6,453.8M931.0,465.1L938.5,464.3M932.2,484.4L939.6,483.0M917.8,505.7L921.8,509.5" stroke="#f4f4f4" stroke-width="1.7999999999999998" stroke-linecap="round" fill="none"/>
<ellipse cx="676.3" cy="451.7" rx="8.1" ry="8.1" fill="#c83c3c" fill-opacity="0.49"/>
<ellipse cx="690.3" cy="447.8" rx="5.4" ry="6.3" fill="#6060c8" fill-opacity="0.57"/>
<ellipse cx="677.9" cy="465.6" rx="6.3" ry="6.3" fill="#6060c8" fill-opacity="0.57"/>
<ellipse cx="688.7" cy="461.0" rx="6.3" ry="5.4" fill="#c83c3c" fill-opacity="0.49"/>
<ellipse cx="715.0" cy="450.1" rx="7.1" ry="6.3" fill="#c83c3c" fill-opacity="0.49"/>
<ellipse cx="715.0" cy="462.5" rx="6.3" ry="5.4" fill="#6060c8" fill-opacity="0.57"/>
<ellipse cx="707.3" cy="471.0" rx="4.5" ry="3.6" fill="#c83c3c" fill-opacity="0.49"/>
<ellipse cx="671.7" cy="488.1" rx="8.1" ry="8.1" fill="#6060c8" fill-opacity="0.57"/>
<ellipse cx="670.1" cy="501.2" rx="6.3" ry="5.4" fill="#c83c3c" fill-opacity="0.49"/>
<ellipse cx="683.3" cy="502.0" rx="7.1" ry="7.1" fill="#c83c3c" fill-opacity="0.49"/>
<ellipse cx="683.3" cy="514.4" rx="7.1" ry="7.1" fill="#6060c8" fill-opacity="0.57"/>
<ellipse cx="716.6" cy="492.0" rx="9.7" ry="9.7" fill="#6060c8" fill-opacity="0.57"/>
<ellipse cx="715.0" cy="502.8" rx="8.1" ry="8.1" fill="#c83c3c" fill-opacity="0.49"/>
<ellipse cx="719.7" cy="522.9" rx="3.5" ry="3.5" fill="#c83c3c" fill-opacity="0.49"/>
<ellipse cx="739.8" cy="507.4" rx="8.1" ry="7.1" fill="#6060c8" fill-opacity="0.57"/>
<ellipse cx="777.0" cy="505.9" rx="8.9" ry="8.1" fill="#6060c8" fill-opacity="0.57"/>
<ellipse cx="772.3" cy="519.8" rx="8.1" ry="7.1" fill="#c83c3c" fill-opacity="0.49"/>
<ellipse cx="786.3" cy="526.0" rx="5.4" ry="5.4" fill="#c83c3c" fill-opacity="0.49"/>
<ellipse cx="825.5" cy="437.0" rx="15.7" ry="11.9" fill="#c83c3c" fill-opacity="0.49"/>
<ellipse cx="806.7" cy="458.0" rx="10.8" ry="10.8" fill="#6060c8" fill-opacity="0.57"/>
<ellipse cx="830.0" cy="478.0" rx="10.8" ry="10.8" fill="#6060c8" fill-opacity="0.57"/>
<ellipse cx="778.4" cy="508.4" rx="9.1" ry="9.1" fill="#6060c8" fill-opacity="0.57"/>
<ellipse cx="773.4" cy="522.6" rx="8.1" ry="7.2" fill="#c83c3c" fill-opacity="0.49"/>
<ellipse cx="783.4" cy="538.4" rx="13.5" ry="12.6" fill="#c83c3c" fill-opacity="0.49"/>
<ellipse cx="785.9" cy="558.5" rx="10.8" ry="9.9" fill="#6060c8" fill-opacity="0.57"/>
<ellipse cx="785.1" cy="573.5" rx="9.9" ry="8.1" fill="#c83c3c" fill-opacity="0.49"/>
<ellipse cx="818.5" cy="506.7" rx="10.8" ry="8.1" fill="#c83c3c" fill-opacity="0.49"/>
<ellipse cx="820.2" cy="520.9" rx="10.8" ry="8.1" fill="#6060c8" fill-opacity="0.57"/>
<ellipse cx="816.8" cy="538.4" rx="11.8" ry="11.8" fill="#c83c3c" fill-opacity="0.49"/>
<ellipse cx="823.5" cy="536.8" rx="9.9" ry="10.8" fill="#6060c8" fill-opacity="0.57"/>
<ellipse cx="816.8" cy="556.8" rx="10.8" ry="9.9" fill="#c83c3c" fill-opacity="0.49"/>
<ellipse cx="816.8" cy="571.8" rx="10.8" ry="9.1" fill="#6060c8" fill-opacity="0.57"/>
<ellipse cx="853.6" cy="500.0" rx="8.1" ry="9.9" fill="#c83c3c" fill-opacity="0.49"/>
<ellipse cx="848.6" cy="493.3" rx="9.1" ry="5.4" fill="#6060c8" fill-opacity="0.57"/>
<ellipse cx="882.0" cy="496.7" rx="6.3" ry="7.2" fill="#6060c8" fill-opacity="0.57"/>
<ellipse cx="741.7" cy="510.0" rx="5.4" ry="7.2" fill="#6060c8" fill-opacity="0.57"/>
<ellipse cx="897.9" cy="442.4" rx="5.0" ry="6.7" fill="#c83c3c" fill-opacity="0.49"/>
<ellipse cx="913.4" cy="444.7" rx="7.6" ry="6.7" fill="#6060c8" fill-opacity="0.57"/>
<ellipse cx="901.0" cy="455.6" rx="6.7" ry="4.2" fill="#6060c8" fill-opacity="0.57"/>
<ellipse cx="913.4" cy="457.9" rx="5.8" ry="5.0" fill="#c83c3c" fill-opacity="0.49"/>
<ellipse cx="924.3" cy="479.6" rx="7.6" ry="7.6" fill="#c83c3c" fill-opacity="0.49"/>
<ellipse cx="925.8" cy="492.7" rx="5.0" ry="5.0" fill="#6060c8" fill-opacity="0.57"/>
<ellipse cx="913.4" cy="496.6" rx="6.7" ry="6.7" fill="#6060c8" fill-opacity="0.57"/>
<ellipse cx="915.0" cy="508.2" rx="5.8" ry="5.8" fill="#c83c3c" fill-opacity="0.49"/>
<ellipse cx="878.6" cy="485.8" rx="8.3" ry="8.3" fill="#c83c3c" fill-opacity="0.49"/>
<ellipse cx="880.9" cy="496.6" rx="6.7" ry="6.7" fill="#6060c8" fill-opacity="0.57"/>
<ellipse cx="853.0" cy="501.2" rx="6.7" ry="9.2" fill="#c83c3c" fill-opacity="0.49"/>
<ellipse cx="853.0" cy="488.9" rx="8.3" ry="8.3" fill="#6060c8" fill-opacity="0.57"/>
<ellipse cx="843.7" cy="485.8" rx="7.6" ry="7.6" fill="#6060c8" fill-opacity="0.57"/>
<ellipse cx="822.0" cy="505.9" rx="7.6" ry="7.6" fill="#c83c3c" fill-opacity="0.49"/>
<ellipse cx="825.1" cy="519.8" rx="7.6" ry="6.7" fill="#6060c8" fill-opacity="0.57"/>
<ellipse cx="811.2" cy="524.5" rx="5.4" ry="5.4" fill="#6060c8" fill-opacity="0.57"/>
<ellipse cx="809.6" cy="507.4" rx="5.0" ry="6.7" fill="#c83c3c" fill-opacity="0.49"/>
<ellipse cx="836.0" cy="471.8" rx="10.0" ry="10.0" fill="#c83c3c" fill-opacity="0.49"/>
<ellipse cx="851.5" cy="470.3" rx="7.6" ry="8.3" fill="#6060c8" fill-opacity="0.57"/>
<ellipse cx="831.3" cy="444.7" rx="4.3" ry="3.5" fill="#6060c8" fill-opacity="0.57"/>
<ellipse cx="876.2" cy="447.0" rx="5.8" ry="5.0" fill="#6060c8" fill-opacity="0.57"/>
<ellipse cx="882.4" cy="454.8" rx="3.2" ry="3.2" fill="#c83c3c" fill-opacity="0.49"/>
<ellipse cx="766.4" cy="438.3" rx="15.4" ry="11.0" fill="url(#sB)" opacity="1"/>
<ellipse cx="743.0" cy="455.0" rx="9.5" ry="8.8" fill="url(#sB)" opacity="0.95"/>
<ellipse cx="740.0" cy="475.0" rx="8.0" ry="9.5" fill="url(#sR)" opacity="0.9"/>
<ellipse cx="747.0" cy="490.6" rx="11.7" ry="9.2" fill="url(#sR)" opacity="0.75"/>
<ellipse cx="754.0" cy="460.0" rx="10.0" ry="8.0" fill="url(#sR)" opacity="0.9"/>
<ellipse cx="756.0" cy="478.0" rx="8.0" ry="9.5" fill="url(#sB)" opacity="0.95"/>
<ellipse cx="778.0" cy="457.0" rx="9.5" ry="9.5" fill="url(#sR)" opacity="0.8"/>
<ellipse cx="776.0" cy="474.0" rx="11.7" ry="10.2" fill="url(#sB)" opacity="0.85"/>
<ellipse cx="781.0" cy="482.0" rx="9.5" ry="6.6" fill="url(#sR)" opacity="0.75"/>
<ellipse cx="786.0" cy="492.0" rx="7.0" ry="7.7" fill="url(#sR)" opacity="0.6"/>
<ellipse cx="764.6" cy="448.6" rx="3.0" ry="3.0" fill="url(#sR)" opacity="1"/>
<line x1="722.245" y1="449.58" x2="708" y2="465.2" stroke="#8a8a8a" stroke-width="4.4" stroke-linecap="round"/><line x1="722.245" y1="449.58" x2="708" y2="465.2" stroke="#c4c4c4" stroke-width="2.0000000000000004" stroke-linecap="round"/><line x1="733.9" y1="436.8" x2="722.245" y2="449.58" stroke="#1cbc1c" stroke-width="4.4" stroke-linecap="round"/>
<line x1="727.24" y1="453.675" x2="719.1" y2="474.3" stroke="#8a8a8a" stroke-width="4.4" stroke-linecap="round"/><line x1="727.24" y1="453.675" x2="719.1" y2="474.3" stroke="#c4c4c4" stroke-width="2.0000000000000004" stroke-linecap="round"/><line x1="733.9" y1="436.8" x2="727.24" y2="453.675" stroke="#1cbc1c" stroke-width="4.4" stroke-linecap="round"/>
<line x1="736.735" y1="454.125" x2="740.2" y2="475.3" stroke="#8a8a8a" stroke-width="4.4" stroke-linecap="round"/><line x1="736.735" y1="454.125" x2="740.2" y2="475.3" stroke="#c4c4c4" stroke-width="2.0000000000000004" stroke-linecap="round"/><line x1="733.9" y1="436.8" x2="736.735" y2="454.125" stroke="#1cbc1c" stroke-width="4.4" stroke-linecap="round"/>
<line x1="742.37" y1="450.94" x2="746" y2="457" stroke="#8a8a8a" stroke-width="4.4" stroke-linecap="round"/><line x1="742.37" y1="450.94" x2="746" y2="457" stroke="#c4c4c4" stroke-width="2.0000000000000004" stroke-linecap="round"/><line x1="733.9" y1="436.8" x2="742.37" y2="450.94" stroke="#1cbc1c" stroke-width="4.4" stroke-linecap="round"/>
<line x1="788.75" y1="456.5" x2="781.8" y2="467" stroke="#8a8a8a" stroke-width="4.4" stroke-linecap="round"/><line x1="788.75" y1="456.5" x2="781.8" y2="467" stroke="#c4c4c4" stroke-width="2.0000000000000004" stroke-linecap="round"/><line x1="795.7" y1="446" x2="788.75" y2="456.5" stroke="#1cbc1c" stroke-width="4.4" stroke-linecap="round"/>
<line x1="791.7" y1="458.0" x2="787.7" y2="470" stroke="#8a8a8a" stroke-width="4.4" stroke-linecap="round"/><line x1="791.7" y1="458.0" x2="787.7" y2="470" stroke="#c4c4c4" stroke-width="2.0000000000000004" stroke-linecap="round"/><line x1="795.7" y1="446" x2="791.7" y2="458.0" stroke="#1cbc1c" stroke-width="4.4" stroke-linecap="round"/>
<line x1="802.6500000000001" y1="455.5" x2="809.6" y2="465" stroke="#8a8a8a" stroke-width="4.4" stroke-linecap="round"/><line x1="802.6500000000001" y1="455.5" x2="809.6" y2="465" stroke="#c4c4c4" stroke-width="2.0000000000000004" stroke-linecap="round"/><line x1="795.7" y1="446" x2="802.6500000000001" y2="455.5" stroke="#1cbc1c" stroke-width="4.4" stroke-linecap="round"/>
<line x1="805.55" y1="458.0" x2="815.4" y2="470" stroke="#8a8a8a" stroke-width="4.4" stroke-linecap="round"/><line x1="805.55" y1="458.0" x2="815.4" y2="470" stroke="#c4c4c4" stroke-width="2.0000000000000004" stroke-linecap="round"/><line x1="795.7" y1="446" x2="805.55" y2="458.0" stroke="#1cbc1c" stroke-width="4.4" stroke-linecap="round"/>
<line x1="836.75" y1="458.65" x2="851.5" y2="463" stroke="#8a8a8a" stroke-width="4.4" stroke-linecap="round"/><line x1="836.75" y1="458.65" x2="851.5" y2="463" stroke="#c4c4c4" stroke-width="2.0000000000000004" stroke-linecap="round"/><line x1="822" y1="454.3" x2="836.75" y2="458.65" stroke="#1cbc1c" stroke-width="4.4" stroke-linecap="round"/>
<line x1="832.1" y1="468.5" x2="842.2" y2="482.7" stroke="#8a8a8a" stroke-width="4.4" stroke-linecap="round"/><line x1="832.1" y1="468.5" x2="842.2" y2="482.7" stroke="#c4c4c4" stroke-width="2.0000000000000004" stroke-linecap="round"/><line x1="822" y1="454.3" x2="832.1" y2="468.5" stroke="#1cbc1c" stroke-width="4.4" stroke-linecap="round"/>
<line x1="813.5" y1="457.15" x2="805" y2="460" stroke="#8a8a8a" stroke-width="4.4" stroke-linecap="round"/><line x1="813.5" y1="457.15" x2="805" y2="460" stroke="#c4c4c4" stroke-width="2.0000000000000004" stroke-linecap="round"/><line x1="822" y1="454.3" x2="813.5" y2="457.15" stroke="#1cbc1c" stroke-width="4.4" stroke-linecap="round"/>
<line x1="869.55" y1="447.7" x2="882.4" y2="461" stroke="#8a8a8a" stroke-width="4.4" stroke-linecap="round"/><line x1="869.55" y1="447.7" x2="882.4" y2="461" stroke="#c4c4c4" stroke-width="2.0000000000000004" stroke-linecap="round"/><line x1="856.7" y1="434.4" x2="869.55" y2="447.7" stroke="#1cbc1c" stroke-width="4.4" stroke-linecap="round"/>
<line x1="854.1" y1="447.7" x2="851.5" y2="461" stroke="#8a8a8a" stroke-width="4.4" stroke-linecap="round"/><line x1="854.1" y1="447.7" x2="851.5" y2="461" stroke="#c4c4c4" stroke-width="2.0000000000000004" stroke-linecap="round"/><line x1="856.7" y1="434.4" x2="854.1" y2="447.7" stroke="#1cbc1c" stroke-width="4.4" stroke-linecap="round"/>
<line x1="790.2" y1="491.05" x2="781" y2="489" stroke="#8a8a8a" stroke-width="4.4" stroke-linecap="round"/><line x1="790.2" y1="491.05" x2="781" y2="489" stroke="#c4c4c4" stroke-width="2.0000000000000004" stroke-linecap="round"/><line x1="799.4" y1="493.1" x2="790.2" y2="491.05" stroke="#1cbc1c" stroke-width="4.4" stroke-linecap="round"/>
<line x1="807.2" y1="490.55" x2="815" y2="488" stroke="#8a8a8a" stroke-width="4.4" stroke-linecap="round"/><line x1="807.2" y1="490.55" x2="815" y2="488" stroke="#c4c4c4" stroke-width="2.0000000000000004" stroke-linecap="round"/><line x1="799.4" y1="493.1" x2="807.2" y2="490.55" stroke="#1cbc1c" stroke-width="4.4" stroke-linecap="round"/>
<line x1="794.2" y1="496.05" x2="789" y2="499" stroke="#8a8a8a" stroke-width="4.4" stroke-linecap="round"/><line x1="794.2" y1="496.05" x2="789" y2="499" stroke="#c4c4c4" stroke-width="2.0000000000000004" stroke-linecap="round"/><line x1="799.4" y1="493.1" x2="794.2" y2="496.05" stroke="#1cbc1c" stroke-width="4.4" stroke-linecap="round"/>
<line x1="803.7" y1="496.05" x2="808" y2="499" stroke="#8a8a8a" stroke-width="4.4" stroke-linecap="round"/><line x1="803.7" y1="496.05" x2="808" y2="499" stroke="#c4c4c4" stroke-width="2.0000000000000004" stroke-linecap="round"/><line x1="799.4" y1="493.1" x2="803.7" y2="496.05" stroke="#1cbc1c" stroke-width="4.4" stroke-linecap="round"/>
<line x1="822" y1="454.3" x2="856.7" y2="434.4" stroke="#1cbc1c" stroke-width="4.2" stroke-linecap="round"/>
<line x1="822" y1="454.3" x2="877.8" y2="468.7" stroke="#1cbc1c" stroke-width="4" stroke-linecap="round"/>
<line x1="749.92" y1="471.08" x2="744.3" y2="475.3" stroke="#8a8a8a" stroke-width="4.6" stroke-linecap="round"/><line x1="749.92" y1="471.08" x2="744.3" y2="475.3" stroke="#c4c4c4" stroke-width="2.1999999999999997" stroke-linecap="round"/><line x1="772.4" y1="454.2" x2="749.92" y2="471.08" stroke="#1cbc1c" stroke-width="4.6" stroke-linecap="round"/>
<line x1="756.3199999999999" y1="475.88" x2="752.3" y2="481.3" stroke="#8a8a8a" stroke-width="4.2" stroke-linecap="round"/><line x1="756.3199999999999" y1="475.88" x2="752.3" y2="481.3" stroke="#c4c4c4" stroke-width="1.8000000000000003" stroke-linecap="round"/><line x1="772.4" y1="454.2" x2="756.3199999999999" y2="475.88" stroke="#1cbc1c" stroke-width="4.2" stroke-linecap="round"/>
<circle cx="733.9" cy="436.8" r="4.7" fill="url(#gL)"/>
<circle cx="795.7" cy="446" r="4.7" fill="url(#gL)"/>
<circle cx="822" cy="454.3" r="4.7" fill="url(#gL)"/>
<circle cx="799.4" cy="493.1" r="4.7" fill="url(#gL)"/>
<circle cx="856.7" cy="434.4" r="4.7" fill="url(#gL)"/>
<text x="660.5" y="557.2" font-family="Liberation Serif, Times New Roman, serif" font-weight="bold" font-size="24" fill="#000">C<tspan font-size="14.4" dy="5">Li</tspan></text>
<line x1="684.5" y1="544.7" x2="753.3" y2="483.6" stroke="#000" stroke-width="0.9" marker-end="url(#ah)"/>
<text x="789" y="527.4" font-family="Liberation Serif, Times New Roman, serif" font-weight="bold" font-size="16.5" fill="#118811">Li</text>
<line x1="789.4" y1="513.3" x2="773.7" y2="458.5" stroke="#000" stroke-width="0.9" marker-end="url(#ah)"/>
<text x="784.8" y="400.3" font-family="Liberation Serif, Times New Roman, serif" font-weight="bold" font-size="16.6" text-anchor="middle" textLength="203.6" lengthAdjust="spacingAndGlyphs">6Li-DV: LUMO+40 at 2 eV</text>
<text x="797.4" y="629.8" font-family="Liberation Serif, Times New Roman, serif" font-size="19" text-anchor="middle" stroke="#000" stroke-width="0.35">(f)</text>
<path d="M33.0,280.2 C37.7,280.1 52.5,279.8 61.0,279.5 C69.5,279.2 77.8,278.6 84.2,278.2 C90.7,277.8 94.6,277.8 99.7,277.2 C104.8,276.6 111.0,275.5 115.1,274.4 C119.2,273.3 122.1,272.0 124.4,270.8 C126.7,269.6 127.3,268.7 129.0,267.4 C130.7,266.1 131.9,266.1 134.3,262.8 C136.7,259.5 141.0,250.7 143.6,247.3 C146.2,243.9 147.4,243.9 149.8,242.6 C152.2,241.2 156.1,238.9 158.3,239.2 C160.5,239.5 161.0,241.3 162.9,244.2 C164.8,247.1 167.5,253.5 169.9,256.6 C172.3,259.7 174.5,262.2 177.6,262.8 C180.7,263.4 185.1,260.3 188.5,260.4 C191.9,260.4 194.5,262.4 197.8,263.1 C201.2,263.8 205.2,264.4 208.6,264.6 C211.9,264.8 214.7,265.0 217.9,264.3 C221.1,263.6 224.4,260.8 227.9,260.4 C231.4,260.0 235.1,262.4 238.7,262.0 C242.3,261.6 245.9,259.0 249.5,258.1 C253.1,257.2 257.0,258.2 260.4,256.9 C263.8,255.6 266.3,253.3 269.7,250.4 C273.1,247.5 277.8,240.2 280.5,239.2 C283.2,238.2 284.2,241.6 285.9,244.2 C287.6,246.8 288.7,252.2 290.6,255.0 C292.5,257.8 296.1,259.9 297.2,260.9" fill="none" stroke="#008000" stroke-width="2.7" stroke-linejoin="round" stroke-linecap="round"/>
<path d="M33.0,248.8 C36.4,248.4 47.2,247.8 53.2,246.5 C59.2,245.2 63.5,242.8 68.7,241.0 C73.9,239.2 80.1,237.4 84.2,235.7 C88.3,234.0 90.8,232.0 93.5,230.6 C96.2,229.2 98.3,227.6 100.4,227.2 C102.5,226.8 104.2,227.6 105.9,228.4 C107.6,229.2 108.7,231.1 110.5,231.8 C112.3,232.5 114.6,232.8 116.7,232.6 C118.8,232.4 120.9,231.0 122.9,230.6 C125.0,230.2 127.1,229.8 129.0,230.0 C130.9,230.2 132.0,231.0 134.3,231.8 C136.6,232.6 140.0,234.8 142.8,234.9 C145.6,235.0 148.6,233.2 151.3,232.6 C154.0,231.9 156.7,231.1 159.0,231.0 C161.3,230.9 162.6,232.6 165.2,232.1 C167.8,231.6 171.4,228.5 174.5,227.9 C177.6,227.3 181.0,228.8 183.8,228.7 C186.7,228.6 189.0,227.8 191.6,227.2 C194.2,226.5 196.7,226.2 199.3,224.8 C201.9,223.4 204.4,220.5 207.0,218.6 C209.6,216.7 212.1,214.9 214.8,213.2 C217.5,211.5 220.8,210.7 223.2,208.6 C225.6,206.5 227.5,203.7 229.4,200.8 C231.3,198.0 233.2,195.4 234.8,191.5 C236.4,187.6 237.0,182.8 238.7,177.4 C240.4,172.0 243.2,165.0 244.9,158.8 C246.6,152.6 247.6,146.1 248.8,140.2 C250.0,134.3 251.1,126.9 251.9,123.2 C252.7,119.5 252.8,122.6 253.4,118.0 C254.0,113.4 254.8,103.0 255.7,95.4 C256.6,87.8 257.9,78.1 258.8,72.2 C259.7,66.3 260.3,63.0 261.1,59.8 C261.9,56.6 262.6,54.3 263.5,52.8 C264.4,51.3 265.5,50.5 266.6,50.8 C267.8,51.1 268.8,53.3 270.4,54.4 C271.9,55.5 274.2,56.4 275.9,57.5 C277.6,58.6 279.0,59.9 280.5,61.3 C282.0,62.7 283.6,65.5 285.1,66.0 C286.7,66.5 287.7,65.3 289.8,64.4 C291.9,63.5 296.2,61.2 297.5,60.6" fill="none" stroke="#000000" stroke-width="2.7" stroke-linejoin="round" stroke-linecap="round"/>
<path d="M33.0,247.0 C35.0,246.8 40.3,247.2 45.0,246.0 C49.7,244.8 55.8,241.5 61.0,239.5 C66.2,237.5 71.8,236.0 76.4,234.1 C81.0,232.2 86.2,228.9 88.8,228.0 C91.4,227.1 90.5,227.9 92.0,228.5 C93.5,229.1 95.8,230.7 98.1,231.5 C100.4,232.3 103.3,233.8 105.9,233.5 C108.5,233.2 110.8,231.1 113.6,230.0 C116.4,228.9 121.0,227.7 122.9,227.2 C124.8,226.7 123.4,226.8 125.0,227.2 C126.6,227.6 130.2,228.8 132.7,229.5 C135.1,230.2 136.8,232.0 139.7,231.5 C142.5,231.0 146.6,227.2 149.8,226.4 C153.0,225.6 155.7,226.6 159.0,226.4 C162.3,226.2 166.5,225.6 169.9,225.3 C173.3,225.0 176.4,225.3 179.2,224.8 C182.0,224.3 184.4,223.1 186.9,222.5 C189.4,221.9 191.6,222.3 193.9,221.0 C196.2,219.7 198.7,217.2 200.9,214.8 C203.1,212.4 204.9,208.3 207.0,206.3 C209.1,204.3 211.3,204.0 213.2,202.8 C215.1,201.6 216.9,200.9 218.5,199.0 C220.1,197.1 221.2,194.7 222.5,191.5 C223.8,188.3 224.6,185.4 226.0,180.0 C227.4,174.6 229.4,165.7 231.0,158.8 C232.6,151.9 234.2,145.4 235.6,138.7 C237.0,132.0 237.9,125.3 239.5,118.6 C241.1,111.9 243.2,104.4 244.9,98.5 C246.6,92.6 247.9,87.4 249.5,83.0 C251.1,78.6 252.6,74.5 254.2,72.2 C255.8,69.9 257.2,69.0 258.8,69.1 C260.4,69.2 261.9,71.7 263.5,73.0 C265.1,74.3 266.0,75.9 268.1,76.8 C270.2,77.7 273.6,78.8 275.9,78.4 C278.2,78.0 279.9,77.0 282.0,74.5 C284.1,72.0 286.4,66.7 288.2,63.7 C290.0,60.7 291.3,58.5 292.9,56.7 C294.4,54.9 296.7,53.4 297.5,52.8" fill="none" stroke="#0000b0" stroke-width="2.7" stroke-linejoin="round" stroke-linecap="round"/>
<path d="M33.1,245.0 C35.2,245.0 41.9,245.4 45.5,245.0 C49.1,244.6 51.7,243.9 54.8,242.6 C57.9,241.3 61.2,238.8 64.0,237.2 C66.8,235.6 69.2,234.3 71.8,233.3 C74.4,232.3 76.7,232.1 79.5,231.0 C82.3,229.9 86.6,227.3 88.8,226.7 C91.0,226.1 91.2,226.6 92.7,227.2 C94.2,227.8 95.9,229.0 98.1,230.0 C100.3,231.0 103.3,232.7 105.9,233.0 C108.5,233.3 110.8,232.5 113.6,231.8 C116.4,231.1 121.0,229.3 122.9,228.7 C124.8,228.0 123.4,227.7 125.0,227.9 C126.6,228.1 130.2,229.0 132.7,229.9 C135.1,230.8 137.1,233.5 139.7,233.3 C142.3,233.1 145.5,229.7 148.2,228.7 C150.9,227.7 153.2,227.6 156.0,227.2 C158.8,226.8 162.4,226.8 165.2,226.4 C168.0,226.0 170.7,225.7 173.0,224.8 C175.3,223.9 177.1,222.3 179.2,221.0 C181.3,219.7 183.3,218.0 185.4,217.1 C187.5,216.2 189.7,216.7 191.6,215.5 C193.5,214.3 195.4,212.3 197.0,210.1 C198.6,207.9 199.6,205.0 200.9,202.4 C202.2,199.8 203.3,196.5 204.7,194.6 C206.1,192.7 207.3,191.7 209.4,190.8 C211.5,190.0 214.9,190.7 217.0,189.5 C219.1,188.3 220.3,186.4 221.7,183.6 C223.1,180.8 224.3,176.9 225.5,172.8 C226.7,168.7 227.7,163.7 228.6,158.8 C229.5,153.9 230.2,149.2 231.0,143.3 C231.8,137.4 232.7,128.9 233.3,123.2 C233.9,117.5 234.2,114.5 234.8,109.3 C235.5,104.1 236.3,99.0 237.2,92.3 C238.1,85.6 239.0,76.3 240.2,69.1 C241.3,61.9 242.8,54.7 244.1,49.0 C245.4,43.3 246.6,38.3 248.0,35.0 C249.4,31.7 251.0,29.1 252.6,29.1 C254.2,29.1 255.9,31.7 257.3,35.0 C258.7,38.3 259.8,43.6 261.1,49.0 C262.4,54.4 263.6,61.3 265.0,67.5 C266.4,73.7 267.9,80.4 269.7,86.1 C271.5,91.8 273.8,98.1 275.9,101.6 C277.9,105.1 279.9,106.9 282.0,107.0 C284.1,107.1 286.1,105.1 288.2,102.4 C290.3,99.7 292.8,93.8 294.4,90.8 C295.9,87.8 297.0,85.6 297.5,84.6" fill="none" stroke="#820000" stroke-width="2.7" stroke-linejoin="round" stroke-linecap="round"/>
<line x1="208.3" y1="193" x2="208.3" y2="288" stroke="#000" stroke-width="1.1" stroke-dasharray="4,3"/>
<path d="M33,288 L33,22 L298,22 L298,288 Z" fill="none" stroke="#000" stroke-width="2"/>
<line x1="44.7" y1="288" x2="44.7" y2="293" stroke="#000" stroke-width="2"/>
<line x1="56.2" y1="288" x2="56.2" y2="291" stroke="#000" stroke-width="1.6"/>
<text transform="translate(44.7,305) scale(0.84,1)" font-family="Liberation Sans, Arial, sans-serif" font-size="13.8" text-anchor="middle" stroke="#000" stroke-width="0.3">-3</text>
<line x1="67.7" y1="288" x2="67.7" y2="293" stroke="#000" stroke-width="2"/>
<line x1="79.2" y1="288" x2="79.2" y2="291" stroke="#000" stroke-width="1.6"/>
<text transform="translate(67.7,305) scale(0.84,1)" font-family="Liberation Sans, Arial, sans-serif" font-size="13.8" text-anchor="middle" stroke="#000" stroke-width="0.3">-2</text>
<line x1="90.7" y1="288" x2="90.7" y2="293" stroke="#000" stroke-width="2"/>
<line x1="102.3" y1="288" x2="102.3" y2="291" stroke="#000" stroke-width="1.6"/>
<text transform="translate(90.7,305) scale(0.84,1)" font-family="Liberation Sans, Arial, sans-serif" font-size="13.8" text-anchor="middle" stroke="#000" stroke-width="0.3">-1</text>
<line x1="113.8" y1="288" x2="113.8" y2="293" stroke="#000" stroke-width="2"/>
<line x1="125.3" y1="288" x2="125.3" y2="291" stroke="#000" stroke-width="1.6"/>
<text transform="translate(113.8,305) scale(0.84,1)" font-family="Liberation Sans, Arial, sans-serif" font-size="13.8" text-anchor="middle" stroke="#000" stroke-width="0.3">0</text>
<line x1="136.8" y1="288" x2="136.8" y2="293" stroke="#000" stroke-width="2"/>
<line x1="148.3" y1="288" x2="148.3" y2="291" stroke="#000" stroke-width="1.6"/>
<text transform="translate(136.8,305) scale(0.84,1)" font-family="Liberation Sans, Arial, sans-serif" font-size="13.8" text-anchor="middle" stroke="#000" stroke-width="0.3">1</text>
<line x1="159.8" y1="288" x2="159.8" y2="293" stroke="#000" stroke-width="2"/>
<line x1="171.3" y1="288" x2="171.3" y2="291" stroke="#000" stroke-width="1.6"/>
<text transform="translate(159.8,305) scale(0.84,1)" font-family="Liberation Sans, Arial, sans-serif" font-size="13.8" text-anchor="middle" stroke="#000" stroke-width="0.3">2</text>
<line x1="182.8" y1="288" x2="182.8" y2="293" stroke="#000" stroke-width="2"/>
<line x1="194.3" y1="288" x2="194.3" y2="291" stroke="#000" stroke-width="1.6"/>
<text transform="translate(182.8,305) scale(0.84,1)" font-family="Liberation Sans, Arial, sans-serif" font-size="13.8" text-anchor="middle" stroke="#000" stroke-width="0.3">3</text>
<line x1="205.8" y1="288" x2="205.8" y2="293" stroke="#000" stroke-width="2"/>
<line x1="217.3" y1="288" x2="217.3" y2="291" stroke="#000" stroke-width="1.6"/>
<text transform="translate(205.8,305) scale(0.84,1)" font-family="Liberation Sans, Arial, sans-serif" font-size="13.8" text-anchor="middle" stroke="#000" stroke-width="0.3">4</text>
<line x1="228.9" y1="288" x2="228.9" y2="293" stroke="#000" stroke-width="2"/>
<line x1="240.4" y1="288" x2="240.4" y2="291" stroke="#000" stroke-width="1.6"/>
<text transform="translate(228.9,305) scale(0.84,1)" font-family="Liberation Sans, Arial, sans-serif" font-size="13.8" text-anchor="middle" stroke="#000" stroke-width="0.3">5</text>
<line x1="251.9" y1="288" x2="251.9" y2="293" stroke="#000" stroke-width="2"/>
<line x1="263.4" y1="288" x2="263.4" y2="291" stroke="#000" stroke-width="1.6"/>
<text transform="translate(251.9,305) scale(0.84,1)" font-family="Liberation Sans, Arial, sans-serif" font-size="13.8" text-anchor="middle" stroke="#000" stroke-width="0.3">6</text>
<line x1="274.9" y1="288" x2="274.9" y2="293" stroke="#000" stroke-width="2"/>
<line x1="286.4" y1="288" x2="286.4" y2="291" stroke="#000" stroke-width="1.6"/>
<text transform="translate(274.9,305) scale(0.84,1)" font-family="Liberation Sans, Arial, sans-serif" font-size="13.8" text-anchor="middle" stroke="#000" stroke-width="0.3">7</text>
<line x1="297.9" y1="288" x2="297.9" y2="293" stroke="#000" stroke-width="2"/>
<text transform="translate(297.9,305) scale(0.84,1)" font-family="Liberation Sans, Arial, sans-serif" font-size="13.8" text-anchor="middle" stroke="#000" stroke-width="0.3">8</text>
<text transform="translate(25.2,150.3) rotate(-90)" font-family="Liberation Sans, Arial, sans-serif" font-weight="bold" font-size="15" text-anchor="middle" textLength="62.8" lengthAdjust="spacingAndGlyphs">Intensity</text>
<text x="122.5" y="317.8" font-family="Liberation Sans, Arial, sans-serif" font-weight="bold" font-size="14.5" textLength="85.0" lengthAdjust="spacingAndGlyphs">Energy (eV)</text>
<text x="158.5" y="351.3" font-family="Liberation Serif, Times New Roman, serif" font-size="18" text-anchor="middle" stroke="#000" stroke-width="0.35">(a)</text>
<text x="83.4" y="214" font-family="Liberation Serif, serif" font-style="italic" font-size="15.5" fill="#111">&#960;<tspan font-family="DejaVu Sans, sans-serif" font-style="normal" font-size="12.5" fill="#444" dx="1.2" dy="-1.8">&#8727;</tspan></text>
<text x="260.4" y="38.9" font-family="DejaVu Serif, serif" font-size="14" fill="#111">&#963;<tspan font-family="DejaVu Sans, sans-serif" font-size="12.5" fill="#444" dx="1" dy="-2.2">&#8727;</tspan></text>
<text x="37" y="275.9" font-family="Liberation Sans, Arial, sans-serif" font-size="9" fill="#111">*0.001</text>
<text x="220.9" y="254.2" font-family="Liberation Sans, Arial, sans-serif" font-weight="bold" font-size="14" fill="#008000">Li</text>
<text x="147.3" y="60.1" font-family="Liberation Sans, Arial, sans-serif" font-weight="bold" font-size="15.5" fill="#820000" textLength="82.2" lengthAdjust="spacingAndGlyphs">C<tspan font-size="8.3" dy="5.3">Li</tspan><tspan dy="-5.3"> in 6Li-G</tspan></text>
<text x="187.3" y="88.7" font-family="Liberation Sans, Arial, sans-serif" font-weight="bold" font-size="15" fill="#0000b0" textLength="39.0" lengthAdjust="spacingAndGlyphs">6Li-G</text>
<text x="214.9" y="120" font-family="Liberation Sans, Arial, sans-serif" font-weight="bold" font-size="15" fill="#000000" textLength="10.2" lengthAdjust="spacingAndGlyphs">G</text>
<line x1="224.8" y1="65.2" x2="238.7" y2="79.9" stroke="#000" stroke-width="0.9" marker-end="url(#ah)"/>
<line x1="227.1" y1="92.3" x2="241" y2="107" stroke="#000" stroke-width="0.9" marker-end="url(#ah)"/>
<line x1="224.8" y1="121.7" x2="247.2" y2="145.7" stroke="#000" stroke-width="0.9" marker-end="url(#ah)"/>
<path d="M354.6,280.2 C358.5,280.1 370.1,280.0 377.9,279.8 C385.6,279.6 394.7,279.4 401.1,279.0 C407.6,278.6 411.7,278.2 416.6,277.5 C421.5,276.8 426.4,275.8 430.5,274.8 C434.6,273.8 438.9,272.0 441.3,271.3 C443.7,270.6 442.6,271.5 445.0,270.5 C447.4,269.5 452.2,267.9 455.8,265.1 C459.4,262.3 463.2,257.4 466.7,253.5 C470.2,249.6 473.9,242.8 476.7,241.9 C479.5,241.0 481.2,245.3 483.7,248.0 C486.1,250.7 488.6,255.6 491.4,258.1 C494.2,260.6 497.6,261.6 500.7,262.8 C503.8,264.0 506.9,265.1 510.0,265.5 C513.1,265.9 515.0,266.1 519.3,265.1 C523.5,264.1 530.2,260.9 535.5,259.3 C540.8,257.8 546.9,256.8 551.0,255.8 C555.1,254.8 557.1,254.4 560.2,253.5 C563.3,252.6 566.9,250.4 569.5,250.1 C572.1,249.8 573.1,250.4 575.7,251.6 C578.3,252.8 582.1,255.8 585.0,257.3 C587.9,258.8 590.5,260.0 592.8,260.4 C595.1,260.8 596.8,260.5 598.9,259.7 C601.0,258.9 602.8,256.6 605.1,255.8 C607.4,255.0 611.6,255.1 612.9,255.0" fill="none" stroke="#008000" stroke-width="2.7" stroke-linejoin="round" stroke-linecap="round"/>
<path d="M354.6,245.0 C356.3,244.7 362.4,243.7 365.0,243.0 C367.6,242.3 367.6,241.5 370.1,241.1 C372.6,240.7 375.6,241.5 380.0,240.5 C384.4,239.5 391.6,236.7 396.4,235.0 C401.2,233.3 404.9,231.8 408.8,230.5 C412.7,229.2 416.6,227.3 419.7,227.0 C422.8,226.7 424.6,228.6 427.4,228.4 C430.2,228.2 433.8,226.6 436.7,226.0 C439.6,225.4 441.0,224.6 445.0,224.8 C449.0,225.0 455.9,226.9 460.5,227.2 C465.1,227.5 469.0,226.6 472.9,226.4 C476.8,226.2 480.1,226.6 483.7,225.9 C487.3,225.2 490.6,223.4 494.5,222.5 C498.4,221.6 503.5,221.0 506.9,220.2 C510.3,219.4 512.5,218.9 514.7,217.9 C516.9,216.9 518.5,215.3 520.0,214.0 C521.5,212.7 522.7,211.0 524.0,210.1 C525.3,209.2 525.8,209.5 527.7,208.6 C529.6,207.7 533.2,206.4 535.5,204.7 C537.8,203.0 539.8,200.7 541.7,198.5 C543.6,196.3 545.2,194.8 547.1,191.3 C549.0,187.8 551.1,182.8 553.3,177.4 C555.5,172.0 558.0,165.0 560.2,158.8 C562.4,152.6 564.6,146.1 566.4,140.2 C568.2,134.3 569.8,127.9 571.1,123.2 C572.4,118.5 573.2,116.4 574.2,112.0 C575.2,107.6 576.3,101.5 577.3,97.0 C578.3,92.5 579.2,87.2 580.4,84.7 C581.5,82.2 582.9,82.4 584.2,81.9 C585.5,81.4 586.9,82.7 588.1,81.9 C589.3,81.1 590.2,79.5 591.2,76.9 C592.2,74.3 593.3,70.2 594.3,66.1 C595.3,62.0 596.4,56.6 597.4,52.2 C598.4,47.8 599.3,43.4 600.5,39.8 C601.7,36.2 603.0,32.8 604.4,30.5 C605.8,28.2 607.6,26.8 609.0,26.1 C610.4,25.5 612.2,26.5 612.9,26.6" fill="none" stroke="#000000" stroke-width="2.7" stroke-linejoin="round" stroke-linecap="round"/>
<path d="M354.6,243.4 C357.7,243.2 368.0,243.2 373.2,242.3 C378.4,241.4 381.7,239.4 385.6,238.0 C389.5,236.6 392.5,235.4 396.4,234.1 C400.3,232.8 404.9,231.2 408.8,229.9 C412.7,228.6 416.6,226.9 419.7,226.4 C422.8,225.9 424.6,227.5 427.4,227.2 C430.2,226.9 434.1,225.4 436.7,224.8 C439.3,224.2 440.7,223.8 442.9,223.7 C445.1,223.6 447.6,224.2 450.0,224.0 C452.4,223.8 454.1,223.4 457.4,222.8 C460.7,222.2 465.7,221.5 469.8,220.7 C473.9,219.9 478.6,219.1 482.2,218.2 C485.8,217.3 488.3,215.5 491.4,215.1 C494.5,214.7 497.6,215.6 500.7,215.5 C503.8,215.4 506.9,216.2 510.0,214.5 C513.1,212.8 516.3,208.2 519.3,205.5 C522.2,202.8 525.0,201.1 527.7,198.5 C530.4,195.9 532.5,193.3 535.5,189.8 C538.5,186.3 542.7,181.5 545.5,177.4 C548.3,173.3 550.0,169.4 552.5,165.0 C555.0,160.6 557.9,156.2 560.2,151.1 C562.5,145.9 564.3,139.5 566.4,134.1 C568.5,128.7 570.7,123.2 572.6,118.6 C574.5,113.9 576.5,109.5 578.0,106.2 C579.5,102.9 580.2,102.2 581.9,98.6 C583.6,95.0 586.3,88.8 588.1,84.7 C589.9,80.6 591.2,77.4 592.8,73.8 C594.3,70.2 595.9,66.2 597.4,63.0 C598.9,59.8 600.5,57.0 602.0,54.5 C603.5,52.0 604.9,49.8 606.7,48.3 C608.5,46.8 611.9,45.7 612.9,45.2" fill="none" stroke="#0000b0" stroke-width="2.7" stroke-linejoin="round" stroke-linecap="round"/>
<path d="M354.6,244.5 C357.7,244.4 368.8,244.5 373.2,243.9 C377.6,243.3 377.9,242.3 381.0,241.1 C384.1,239.8 388.2,237.3 391.8,236.4 C395.4,235.5 399.2,236.6 402.6,235.7 C406.0,234.8 409.0,232.6 411.9,231.0 C414.8,229.4 417.4,227.8 419.7,226.4 C422.0,225.0 423.6,223.2 425.9,222.5 C428.2,221.8 430.8,223.2 433.6,222.5 C436.4,221.8 440.0,219.4 442.9,218.6 C445.8,217.8 448.0,217.2 451.2,217.6 C454.4,217.9 458.9,221.2 462.0,220.7 C465.1,220.2 467.5,217.3 469.8,214.8 C472.1,212.3 474.1,208.8 476.0,205.5 C477.9,202.2 479.9,198.2 481.5,195.0 C483.1,191.8 484.0,188.7 485.5,186.5 C487.0,184.3 488.7,182.3 490.3,182.0 C491.9,181.7 493.3,182.3 495.0,184.4 C496.7,186.5 499.0,191.8 500.4,194.4 C501.8,197.0 502.4,198.7 503.5,200.0 C504.6,201.3 505.6,202.6 506.9,202.4 C508.2,202.2 509.4,201.2 511.2,199.1 C513.0,197.0 515.9,191.8 517.4,189.8 C518.9,187.8 519.0,188.3 520.0,187.0 C521.0,185.7 522.3,183.2 523.6,182.0 C524.9,180.8 526.4,180.5 527.7,179.5 C529.0,178.5 530.1,177.3 531.3,175.9 C532.5,174.5 533.8,173.0 534.7,171.2 C535.7,169.4 536.1,167.3 537.0,165.0 C537.9,162.7 538.8,160.0 540.1,157.3 C541.4,154.6 543.4,150.2 544.8,148.8 C546.2,147.4 547.2,148.2 548.6,148.8 C550.0,149.4 551.8,151.7 553.3,152.6 C554.8,153.5 556.5,154.8 557.9,154.5 C559.3,154.2 560.6,153.5 561.8,151.1 C563.0,148.7 564.0,144.1 564.9,140.2 C565.8,136.3 566.3,131.2 567.2,127.9 C568.1,124.6 569.3,121.5 570.3,120.1 C571.3,118.7 572.2,118.4 573.4,119.3 C574.6,120.2 575.9,123.0 577.3,125.5 C578.7,128.0 580.2,131.7 581.9,134.1 C583.6,136.5 585.8,139.5 587.3,139.9 C588.8,140.3 590.0,138.9 591.2,136.4 C592.4,133.9 593.1,128.8 594.3,124.8 C595.5,120.8 596.7,116.0 598.2,112.4 C599.8,108.8 601.9,104.1 603.6,103.1 C605.3,102.1 606.7,103.9 608.2,106.2 C609.8,108.5 612.1,115.2 612.9,117.0" fill="none" stroke="#820000" stroke-width="2.7" stroke-linejoin="round" stroke-linecap="round"/>
<line x1="495.3" y1="192" x2="495.3" y2="287.6" stroke="#000" stroke-width="1.1" stroke-dasharray="4,3"/>
<path d="M354,287.6 L354,22 L614,22 L614,287.6 Z" fill="none" stroke="#000" stroke-width="2"/>
<line x1="364.9" y1="287.6" x2="364.9" y2="292.6" stroke="#000" stroke-width="2"/>
<line x1="376.2" y1="287.6" x2="376.2" y2="290.6" stroke="#000" stroke-width="1.6"/>
<text transform="translate(364.9,305) scale(0.84,1)" font-family="Liberation Sans, Arial, sans-serif" font-size="13.8" text-anchor="middle" stroke="#000" stroke-width="0.3">-3</text>
<line x1="387.5" y1="287.6" x2="387.5" y2="292.6" stroke="#000" stroke-width="2"/>
<line x1="398.9" y1="287.6" x2="398.9" y2="290.6" stroke="#000" stroke-width="1.6"/>
<text transform="translate(387.5,305) scale(0.84,1)" font-family="Liberation Sans, Arial, sans-serif" font-size="13.8" text-anchor="middle" stroke="#000" stroke-width="0.3">-2</text>
<line x1="410.2" y1="287.6" x2="410.2" y2="292.6" stroke="#000" stroke-width="2"/>
<line x1="421.5" y1="287.6" x2="421.5" y2="290.6" stroke="#000" stroke-width="1.6"/>
<text transform="translate(410.2,305) scale(0.84,1)" font-family="Liberation Sans, Arial, sans-serif" font-size="13.8" text-anchor="middle" stroke="#000" stroke-width="0.3">-1</text>
<line x1="432.8" y1="287.6" x2="432.8" y2="292.6" stroke="#000" stroke-width="2"/>
<line x1="444.2" y1="287.6" x2="444.2" y2="290.6" stroke="#000" stroke-width="1.6"/>
<text transform="translate(432.8,305) scale(0.84,1)" font-family="Liberation Sans, Arial, sans-serif" font-size="13.8" text-anchor="middle" stroke="#000" stroke-width="0.3">0</text>
<line x1="455.5" y1="287.6" x2="455.5" y2="292.6" stroke="#000" stroke-width="2"/>
<line x1="466.8" y1="287.6" x2="466.8" y2="290.6" stroke="#000" stroke-width="1.6"/>
<text transform="translate(455.5,305) scale(0.84,1)" font-family="Liberation Sans, Arial, sans-serif" font-size="13.8" text-anchor="middle" stroke="#000" stroke-width="0.3">1</text>
<line x1="478.1" y1="287.6" x2="478.1" y2="292.6" stroke="#000" stroke-width="2"/>
<line x1="489.5" y1="287.6" x2="489.5" y2="290.6" stroke="#000" stroke-width="1.6"/>
<text transform="translate(478.1,305) scale(0.84,1)" font-family="Liberation Sans, Arial, sans-serif" font-size="13.8" text-anchor="middle" stroke="#000" stroke-width="0.3">2</text>
<line x1="500.8" y1="287.6" x2="500.8" y2="292.6" stroke="#000" stroke-width="2"/>
<line x1="512.1" y1="287.6" x2="512.1" y2="290.6" stroke="#000" stroke-width="1.6"/>
<text transform="translate(500.8,305) scale(0.84,1)" font-family="Liberation Sans, Arial, sans-serif" font-size="13.8" text-anchor="middle" stroke="#000" stroke-width="0.3">3</text>
<line x1="523.4" y1="287.6" x2="523.4" y2="292.6" stroke="#000" stroke-width="2"/>
<line x1="534.8" y1="287.6" x2="534.8" y2="290.6" stroke="#000" stroke-width="1.6"/>
<text transform="translate(523.4,305) scale(0.84,1)" font-family="Liberation Sans, Arial, sans-serif" font-size="13.8" text-anchor="middle" stroke="#000" stroke-width="0.3">4</text>
<line x1="546.1" y1="287.6" x2="546.1" y2="292.6" stroke="#000" stroke-width="2"/>
<line x1="557.4" y1="287.6" x2="557.4" y2="290.6" stroke="#000" stroke-width="1.6"/>
<text transform="translate(546.1,305) scale(0.84,1)" font-family="Liberation Sans, Arial, sans-serif" font-size="13.8" text-anchor="middle" stroke="#000" stroke-width="0.3">5</text>
<line x1="568.8" y1="287.6" x2="568.8" y2="292.6" stroke="#000" stroke-width="2"/>
<line x1="580.1" y1="287.6" x2="580.1" y2="290.6" stroke="#000" stroke-width="1.6"/>
<text transform="translate(568.8,305) scale(0.84,1)" font-family="Liberation Sans, Arial, sans-serif" font-size="13.8" text-anchor="middle" stroke="#000" stroke-width="0.3">6</text>
<line x1="591.4" y1="287.6" x2="591.4" y2="292.6" stroke="#000" stroke-width="2"/>
<line x1="602.7" y1="287.6" x2="602.7" y2="290.6" stroke="#000" stroke-width="1.6"/>
<text transform="translate(591.4,305) scale(0.84,1)" font-family="Liberation Sans, Arial, sans-serif" font-size="13.8" text-anchor="middle" stroke="#000" stroke-width="0.3">7</text>
<line x1="614.0" y1="287.6" x2="614.0" y2="292.6" stroke="#000" stroke-width="2"/>
<text transform="translate(614.0,305) scale(0.84,1)" font-family="Liberation Sans, Arial, sans-serif" font-size="13.8" text-anchor="middle" stroke="#000" stroke-width="0.3">8</text>
<text transform="translate(346.3,148.3) rotate(-90)" font-family="Liberation Sans, Arial, sans-serif" font-weight="bold" font-size="15" text-anchor="middle" textLength="62.4" lengthAdjust="spacingAndGlyphs">Intensity</text>
<text x="441.5" y="319.8" font-family="Liberation Sans, Arial, sans-serif" font-weight="bold" font-size="14.5" textLength="83.7" lengthAdjust="spacingAndGlyphs">Energy (eV)</text>
<text x="476.3" y="351.3" font-family="Liberation Serif, Times New Roman, serif" font-size="18" text-anchor="middle" stroke="#000" stroke-width="0.35">(b)</text>
<text x="419.7" y="210.1" font-family="Liberation Serif, serif" font-style="italic" font-size="15.5" fill="#111">&#960;<tspan font-family="DejaVu Sans, sans-serif" font-style="normal" font-size="12.5" fill="#444" dx="1.2" dy="-1.8">&#8727;</tspan></text>
<text x="575.4" y="44.4" font-family="DejaVu Serif, serif" font-size="14" fill="#111">&#963;<tspan font-family="DejaVu Sans, sans-serif" font-size="12.5" fill="#444" dx="1" dy="-2.2">&#8727;</tspan></text>
<text x="358.5" y="275.1" font-family="Liberation Sans, Arial, sans-serif" font-size="9" fill="#111">*0.001</text>
<text x="528.6" y="251.6" font-family="Liberation Sans, Arial, sans-serif" font-weight="bold" font-size="14" fill="#008000">Li</text>
<text x="450.8" y="131.7" font-family="Liberation Sans, Arial, sans-serif" font-weight="bold" font-size="15.5" fill="#820000" textLength="90.7" lengthAdjust="spacingAndGlyphs">C<tspan font-size="8.3" dy="5.3">Li</tspan><tspan dy="-5.3"> in 6Li-SV</tspan></text>
<text x="487.2" y="155.7" font-family="Liberation Sans, Arial, sans-serif" font-weight="bold" font-size="15" fill="#0000b0" textLength="48.0" lengthAdjust="spacingAndGlyphs">6Li-SV</text>
<text x="506.6" y="175.9" font-family="Liberation Sans, Arial, sans-serif" font-weight="bold" font-size="15" fill="#000000" textLength="18.8" lengthAdjust="spacingAndGlyphs">SV</text>
<line x1="529" y1="134" x2="540" y2="146.4" stroke="#000" stroke-width="0.9" marker-end="url(#ah)"/>
<line x1="525.9" y1="158.8" x2="538.3" y2="172.8" stroke="#000" stroke-width="0.9" marker-end="url(#ah)"/>
<line x1="518.2" y1="179" x2="536" y2="199" stroke="#000" stroke-width="0.9" marker-end="url(#ah)"/>
<path d="M670.4,287.6 C677.2,287.5 701.5,287.4 711.4,287.1 C721.3,286.8 724.1,286.2 730.0,285.6 C735.9,285.0 742.4,284.0 747.0,283.2 C751.6,282.4 755.7,281.4 757.9,280.9 C760.1,280.4 758.1,280.9 760.0,280.1 C761.9,279.3 765.9,278.1 769.3,276.3 C772.6,274.5 776.8,272.3 780.1,269.3 C783.5,266.3 786.3,261.5 789.4,258.5 C792.5,255.5 796.1,252.3 798.7,251.5 C801.3,250.7 802.8,251.6 804.9,253.8 C807.0,256.0 808.8,261.5 811.1,264.7 C813.4,267.9 816.0,271.6 818.8,273.2 C821.6,274.8 825.0,274.7 828.1,274.3 C831.2,273.9 834.3,272.9 837.4,270.9 C840.5,268.9 844.1,264.2 846.7,262.3 C849.3,260.4 851.0,259.4 853.1,259.2 C855.2,259.0 857.0,260.9 859.3,261.3 C861.6,261.8 864.7,261.2 867.0,261.9 C869.3,262.6 870.9,264.9 873.2,265.4 C875.5,265.9 878.2,264.9 881.0,264.7 C883.8,264.5 887.1,265.0 890.2,264.3 C893.3,263.6 897.2,260.9 899.5,260.3 C901.8,259.7 902.7,260.2 904.2,260.8 C905.8,261.4 907.0,262.5 908.8,263.9 C910.6,265.3 912.7,268.1 915.0,269.3 C917.3,270.5 919.2,270.8 922.8,271.2 C926.4,271.6 934.4,271.5 936.7,271.6" fill="none" stroke="#008000" stroke-width="2.7" stroke-linejoin="round" stroke-linecap="round"/>
<path d="M670.4,251.0 C674.9,250.8 691.2,250.7 697.5,250.0 C703.8,249.3 704.2,248.3 708.3,246.9 C712.4,245.5 717.9,243.0 722.3,241.4 C726.7,239.8 730.6,238.5 734.7,237.6 C738.8,236.7 743.4,236.7 747.0,236.0 C750.6,235.3 752.6,234.2 756.3,233.7 C760.0,233.2 765.3,232.9 769.3,232.9 C773.3,232.9 777.0,233.3 780.1,233.7 C783.2,234.1 785.0,234.7 787.9,235.2 C790.8,235.7 794.1,236.6 797.2,236.5 C800.3,236.4 803.6,236.2 806.4,234.5 C809.2,232.8 811.6,228.7 814.2,226.0 C816.8,223.3 819.8,220.1 821.9,218.2 C824.0,216.2 825.0,214.7 826.6,214.3 C828.2,213.9 829.7,215.4 831.2,215.9 C832.8,216.4 834.4,218.1 835.9,217.4 C837.4,216.8 838.7,214.2 840.5,212.0 C842.3,209.8 844.6,206.0 846.7,204.3 C848.8,202.6 850.0,202.5 852.9,202.0 C855.8,201.5 861.4,202.2 863.9,201.5 C866.4,200.8 866.5,199.9 868.0,198.0 C869.5,196.1 871.3,192.7 873.2,189.8 C875.1,186.9 877.1,183.6 879.4,180.5 C881.7,177.4 884.9,175.1 887.2,171.2 C889.5,167.3 891.0,162.5 893.3,157.3 C895.6,152.1 898.8,145.4 901.1,140.2 C903.4,135.0 905.2,130.9 907.3,126.3 C909.4,121.7 912.0,116.8 913.5,112.4 C915.0,108.1 915.5,104.8 916.6,100.2 C917.8,95.6 919.1,89.7 920.4,84.8 C921.7,79.9 923.1,75.2 924.3,70.8 C925.5,66.4 926.4,61.8 927.4,58.4 C928.4,55.0 929.3,52.6 930.5,50.7 C931.7,48.8 933.2,47.7 934.4,46.8 C935.6,45.9 937.0,45.5 937.5,45.3" fill="none" stroke="#000000" stroke-width="2.7" stroke-linejoin="round" stroke-linecap="round"/>
<path d="M670.4,250.4 C674.7,250.2 689.9,249.8 696.0,248.9 C702.1,248.0 702.4,246.8 706.8,244.8 C711.2,242.8 717.4,238.8 722.3,236.8 C727.2,234.8 732.1,234.1 736.2,232.9 C740.3,231.7 743.0,230.4 747.0,229.8 C751.0,229.2 756.5,229.5 760.0,229.5 C763.5,229.5 764.4,229.4 767.7,229.8 C771.1,230.2 776.2,231.6 780.1,231.8 C784.0,232.0 787.1,231.2 791.0,230.9 C794.9,230.7 799.7,231.4 803.3,230.3 C806.9,229.2 809.5,226.0 812.6,224.4 C815.7,222.8 818.8,222.8 821.9,221.0 C825.0,219.2 828.1,216.2 831.2,213.6 C834.3,210.9 837.4,207.7 840.5,205.1 C843.6,202.5 846.9,199.9 849.8,198.1 C852.7,196.3 855.4,196.6 857.7,194.4 C860.1,192.2 861.8,189.0 863.9,185.1 C866.0,181.2 868.0,175.8 870.1,171.2 C872.2,166.6 874.2,162.5 876.3,157.3 C878.4,152.1 880.6,145.6 882.5,140.2 C884.4,134.8 886.1,129.4 887.9,124.8 C889.7,120.2 891.4,116.3 893.3,112.4 C895.2,108.5 897.7,103.4 899.5,101.5 C901.3,99.6 902.8,100.5 904.2,101.0 C905.6,101.5 906.5,104.8 908.0,104.6 C909.5,104.3 911.8,102.5 913.5,99.5 C915.2,96.5 916.7,91.1 918.1,86.3 C919.5,81.5 920.7,75.7 922.0,70.8 C923.3,65.9 924.6,61.0 925.9,56.9 C927.2,52.8 928.4,48.7 929.7,46.1 C931.0,43.5 932.3,41.6 933.6,41.1 C934.9,40.6 936.9,42.7 937.5,43.0" fill="none" stroke="#0000b0" stroke-width="2.7" stroke-linejoin="round" stroke-linecap="round"/>
<path d="M670.4,248.4 C671.8,248.2 676.4,247.3 678.9,247.3 C681.4,247.3 682.2,248.6 685.1,248.4 C688.0,248.2 692.6,246.8 696.0,246.1 C699.4,245.4 702.4,245.1 705.2,244.2 C708.0,243.3 710.1,242.3 713.0,240.7 C715.9,239.1 719.5,235.9 722.3,234.5 C725.1,233.1 727.4,232.9 730.0,232.2 C732.6,231.5 735.0,231.6 737.8,230.3 C740.6,229.0 744.4,225.6 747.0,224.4 C749.6,223.2 751.0,223.4 753.2,223.2 C755.4,223.0 757.8,223.1 760.0,223.2 C762.2,223.3 764.1,222.9 766.2,223.6 C768.3,224.3 770.2,226.4 772.4,227.5 C774.6,228.6 776.7,230.6 779.3,230.3 C781.9,230.1 784.9,227.4 787.9,226.0 C790.9,224.6 794.1,223.4 797.2,222.1 C800.3,220.8 803.6,219.8 806.4,217.9 C809.2,216.0 812.1,211.8 814.2,210.5 C816.3,209.2 817.2,210.8 818.8,210.2 C820.3,209.5 822.1,208.2 823.5,206.6 C824.9,205.0 826.0,203.2 827.3,200.4 C828.6,197.6 829.5,193.9 831.2,189.8 C832.9,185.7 835.3,179.5 837.4,175.9 C839.5,172.3 841.7,170.4 843.6,168.1 C845.5,165.8 847.5,162.8 849.0,161.9 C850.5,161.0 851.6,161.5 852.9,162.7 C854.2,163.9 855.5,167.5 856.7,168.9 C857.9,170.3 858.6,171.6 860.1,171.2 C861.6,170.8 863.6,168.9 865.5,166.6 C867.4,164.3 870.0,160.7 871.7,157.3 C873.4,153.9 874.4,150.3 875.5,146.4 C876.6,142.5 877.6,138.2 878.6,134.1 C879.6,130.0 880.7,125.6 881.7,121.7 C882.7,117.8 883.5,113.9 884.8,110.8 C886.1,107.7 887.8,105.8 889.5,103.1 C891.2,100.4 893.2,96.4 894.9,94.8 C896.6,93.2 898.1,93.2 899.5,93.3 C900.9,93.4 902.0,94.6 903.4,95.6 C904.8,96.6 906.5,99.5 908.0,99.5 C909.5,99.5 911.4,97.8 912.7,95.6 C914.0,93.4 914.8,89.9 915.8,86.3 C916.8,82.7 917.7,78.6 918.9,73.9 C920.1,69.2 921.6,63.0 922.8,58.4 C924.0,53.8 924.9,50.0 925.9,46.1 C926.9,42.2 927.8,38.2 928.9,35.2 C930.0,32.2 931.6,29.6 932.8,28.3 C934.0,27.0 935.1,27.2 935.9,27.5 C936.7,27.8 937.2,29.4 937.5,29.8" fill="none" stroke="#820000" stroke-width="2.7" stroke-linejoin="round" stroke-linecap="round"/>
<line x1="798.4" y1="210.5" x2="798.4" y2="291.7" stroke="#000" stroke-width="1.1" stroke-dasharray="4,3"/>
<path d="M670,291.7 L670,18 L937.6,18 L937.6,291.7 Z" fill="none" stroke="#000" stroke-width="2"/>
<line x1="681.9" y1="291.7" x2="681.9" y2="296.7" stroke="#000" stroke-width="2"/>
<line x1="693.5" y1="291.7" x2="693.5" y2="294.7" stroke="#000" stroke-width="1.6"/>
<text transform="translate(681.9,309) scale(0.84,1)" font-family="Liberation Sans, Arial, sans-serif" font-size="13.8" text-anchor="middle" stroke="#000" stroke-width="0.3">-3</text>
<line x1="705.1" y1="291.7" x2="705.1" y2="296.7" stroke="#000" stroke-width="2"/>
<line x1="716.8" y1="291.7" x2="716.8" y2="294.7" stroke="#000" stroke-width="1.6"/>
<text transform="translate(705.1,309) scale(0.84,1)" font-family="Liberation Sans, Arial, sans-serif" font-size="13.8" text-anchor="middle" stroke="#000" stroke-width="0.3">-2</text>
<line x1="728.4" y1="291.7" x2="728.4" y2="296.7" stroke="#000" stroke-width="2"/>
<line x1="740.0" y1="291.7" x2="740.0" y2="294.7" stroke="#000" stroke-width="1.6"/>
<text transform="translate(728.4,309) scale(0.84,1)" font-family="Liberation Sans, Arial, sans-serif" font-size="13.8" text-anchor="middle" stroke="#000" stroke-width="0.3">-1</text>
<line x1="751.6" y1="291.7" x2="751.6" y2="296.7" stroke="#000" stroke-width="2"/>
<line x1="763.3" y1="291.7" x2="763.3" y2="294.7" stroke="#000" stroke-width="1.6"/>
<text transform="translate(751.6,309) scale(0.84,1)" font-family="Liberation Sans, Arial, sans-serif" font-size="13.8" text-anchor="middle" stroke="#000" stroke-width="0.3">0</text>
<line x1="774.9" y1="291.7" x2="774.9" y2="296.7" stroke="#000" stroke-width="2"/>
<line x1="786.5" y1="291.7" x2="786.5" y2="294.7" stroke="#000" stroke-width="1.6"/>
<text transform="translate(774.9,309) scale(0.84,1)" font-family="Liberation Sans, Arial, sans-serif" font-size="13.8" text-anchor="middle" stroke="#000" stroke-width="0.3">1</text>
<line x1="798.1" y1="291.7" x2="798.1" y2="296.7" stroke="#000" stroke-width="2"/>
<line x1="809.7" y1="291.7" x2="809.7" y2="294.7" stroke="#000" stroke-width="1.6"/>
<text transform="translate(798.1,309) scale(0.84,1)" font-family="Liberation Sans, Arial, sans-serif" font-size="13.8" text-anchor="middle" stroke="#000" stroke-width="0.3">2</text>
<line x1="821.4" y1="291.7" x2="821.4" y2="296.7" stroke="#000" stroke-width="2"/>
<line x1="833.0" y1="291.7" x2="833.0" y2="294.7" stroke="#000" stroke-width="1.6"/>
<text transform="translate(821.4,309) scale(0.84,1)" font-family="Liberation Sans, Arial, sans-serif" font-size="13.8" text-anchor="middle" stroke="#000" stroke-width="0.3">3</text>
<line x1="844.6" y1="291.7" x2="844.6" y2="296.7" stroke="#000" stroke-width="2"/>
<line x1="856.2" y1="291.7" x2="856.2" y2="294.7" stroke="#000" stroke-width="1.6"/>
<text transform="translate(844.6,309) scale(0.84,1)" font-family="Liberation Sans, Arial, sans-serif" font-size="13.8" text-anchor="middle" stroke="#000" stroke-width="0.3">4</text>
<line x1="867.9" y1="291.7" x2="867.9" y2="296.7" stroke="#000" stroke-width="2"/>
<line x1="879.5" y1="291.7" x2="879.5" y2="294.7" stroke="#000" stroke-width="1.6"/>
<text transform="translate(867.9,309) scale(0.84,1)" font-family="Liberation Sans, Arial, sans-serif" font-size="13.8" text-anchor="middle" stroke="#000" stroke-width="0.3">5</text>
<line x1="891.1" y1="291.7" x2="891.1" y2="296.7" stroke="#000" stroke-width="2"/>
<line x1="902.7" y1="291.7" x2="902.7" y2="294.7" stroke="#000" stroke-width="1.6"/>
<text transform="translate(891.1,309) scale(0.84,1)" font-family="Liberation Sans, Arial, sans-serif" font-size="13.8" text-anchor="middle" stroke="#000" stroke-width="0.3">6</text>
<line x1="914.4" y1="291.7" x2="914.4" y2="296.7" stroke="#000" stroke-width="2"/>
<line x1="926.0" y1="291.7" x2="926.0" y2="294.7" stroke="#000" stroke-width="1.6"/>
<text transform="translate(914.4,309) scale(0.84,1)" font-family="Liberation Sans, Arial, sans-serif" font-size="13.8" text-anchor="middle" stroke="#000" stroke-width="0.3">7</text>
<line x1="937.6" y1="291.7" x2="937.6" y2="296.7" stroke="#000" stroke-width="2"/>
<text transform="translate(937.6,309) scale(0.84,1)" font-family="Liberation Sans, Arial, sans-serif" font-size="13.8" text-anchor="middle" stroke="#000" stroke-width="0.3">8</text>
<text transform="translate(662.9,147.5) rotate(-90)" font-family="Liberation Sans, Arial, sans-serif" font-weight="bold" font-size="15" text-anchor="middle" textLength="65.3" lengthAdjust="spacingAndGlyphs">Intensity</text>
<text x="760.7" y="323.8" font-family="Liberation Sans, Arial, sans-serif" font-weight="bold" font-size="14.5" textLength="85.8" lengthAdjust="spacingAndGlyphs">Energy (eV)</text>
<text x="796.9" y="351.3" font-family="Liberation Serif, Times New Roman, serif" font-size="18" text-anchor="middle" stroke="#000" stroke-width="0.35">(c)</text>
<text x="742.4" y="217.4" font-family="Liberation Serif, serif" font-style="italic" font-size="15.5" fill="#111">&#960;<tspan font-family="DejaVu Sans, sans-serif" font-style="normal" font-size="12.5" fill="#444" dx="1.2" dy="-1.8">&#8727;</tspan></text>
<text x="900.3" y="46.8" font-family="DejaVu Serif, serif" font-size="14" fill="#111">&#963;<tspan font-family="DejaVu Sans, sans-serif" font-size="12.5" fill="#444" dx="1" dy="-2.2">&#8727;</tspan></text>
<text x="675" y="281.7" font-family="Liberation Sans, Arial, sans-serif" font-size="9" fill="#111">*0.001</text>
<text x="844.4" y="251.5" font-family="Liberation Sans, Arial, sans-serif" font-weight="bold" font-size="14" fill="#008000">Li</text>
<text x="787.5" y="90.7" font-family="Liberation Sans, Arial, sans-serif" font-weight="bold" font-size="15.5" fill="#820000" textLength="92.1" lengthAdjust="spacingAndGlyphs">C<tspan font-size="8.3" dy="5.3">Li</tspan><tspan dy="-5.3"> in 6Li-DV</tspan></text>
<text x="823.6" y="116.4" font-family="Liberation Sans, Arial, sans-serif" font-weight="bold" font-size="15" fill="#0000b0" textLength="50.1" lengthAdjust="spacingAndGlyphs">6Li-DV</text>
<text x="844.9" y="140.5" font-family="Liberation Sans, Arial, sans-serif" font-weight="bold" font-size="15" fill="#000000" textLength="20.6" lengthAdjust="spacingAndGlyphs">DV</text>
<line x1="874" y1="94.4" x2="885.9" y2="110.1" stroke="#000" stroke-width="0.9" marker-end="url(#ah)"/>
<line x1="872.1" y1="123.2" x2="884.6" y2="137.7" stroke="#000" stroke-width="0.9" marker-end="url(#ah)"/>
<line x1="865.5" y1="145.7" x2="887.2" y2="170.4" stroke="#000" stroke-width="0.9" marker-end="url(#ah)"/>
</svg>
</body></html>
